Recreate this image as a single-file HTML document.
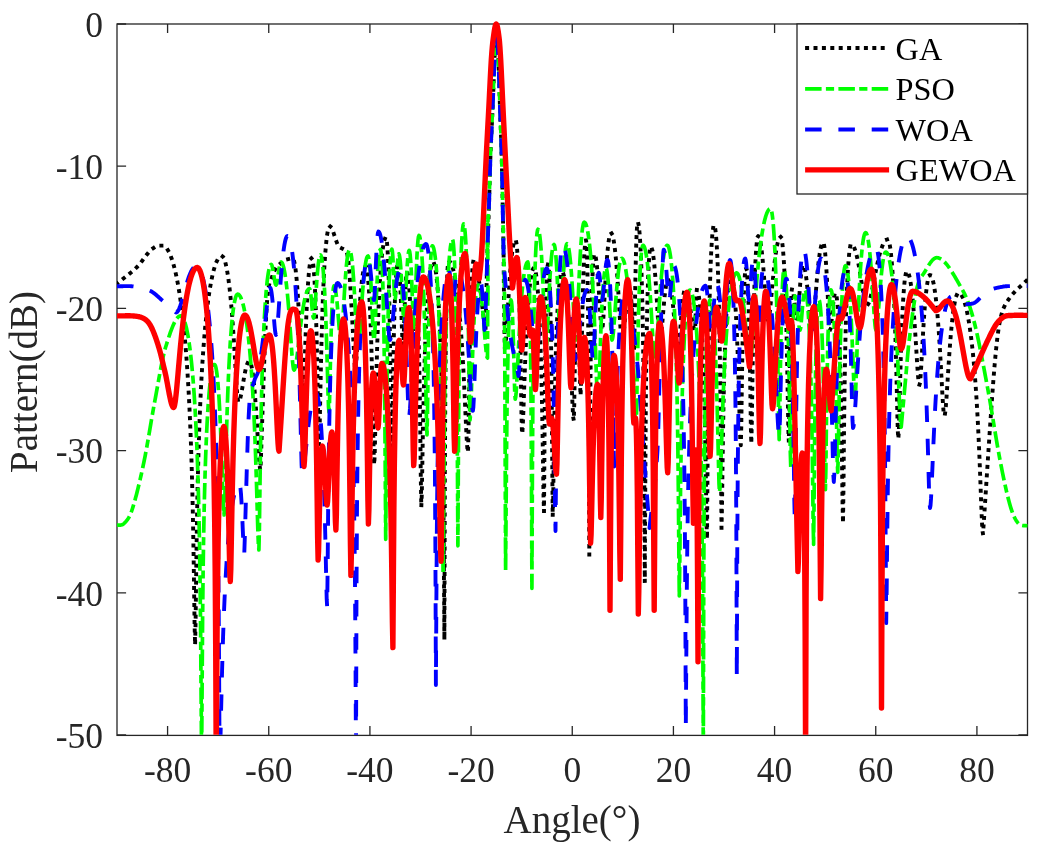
<!DOCTYPE html><html><head><meta charset="utf-8"><style>html,body{margin:0;padding:0;background:#fff;width:1040px;height:854px;overflow:hidden}svg{display:block;will-change:transform}text{font-family:"Liberation Serif",serif;fill:#262626}</style></head><body>
<svg width="1040" height="854" viewBox="0 0 1040 854">
<rect width="1040" height="854" fill="#fff"/>
<defs><clipPath id="c"><rect x="117.0" y="17" width="910.5" height="717.7"/></clipPath></defs>
<rect x="117.0" y="24.0" width="910.5" height="711.4" fill="none" stroke="#262626" stroke-width="1.3"/>
<path d="M167.58 735.0v-9.1M167.58 24.0v9.1M268.75 735.0v-9.1M268.75 24.0v9.1M369.92 735.0v-9.1M369.92 24.0v9.1M471.08 735.0v-9.1M471.08 24.0v9.1M572.25 735.0v-9.1M572.25 24.0v9.1M673.42 735.0v-9.1M673.42 24.0v9.1M774.58 735.0v-9.1M774.58 24.0v9.1M875.75 735.0v-9.1M875.75 24.0v9.1M976.92 735.0v-9.1M976.92 24.0v9.1M117.0 24.00h9.1M1027.5 24.00h-9.1M117.0 166.20h9.1M1027.5 166.20h-9.1M117.0 308.40h9.1M1027.5 308.40h-9.1M117.0 450.60h9.1M1027.5 450.60h-9.1M117.0 592.80h9.1M1027.5 592.80h-9.1M117.0 735.00h9.1M1027.5 735.00h-9.1" stroke="#262626" stroke-width="1.3" fill="none"/>
<g clip-path="url(#c)">
<path d="M117.00,283.50 L117.50,283.09 L118.00,282.68 L118.50,282.28 L119.00,281.88 L119.50,281.48 L120.00,281.09 L120.50,280.69 L121.00,280.30 L121.50,279.91 L122.00,279.53 L122.50,279.14 L123.00,278.75 L123.50,278.37 L124.00,277.98 L124.50,277.59 L125.00,277.21 L125.50,276.82 L126.00,276.43 L126.50,276.04 L127.00,275.65 L127.50,275.26 L128.00,274.86 L128.50,274.46 L129.00,274.06 L129.50,273.66 L130.00,273.25 L130.50,272.84 L131.00,272.42 L131.50,272.00 L132.00,271.58 L132.50,271.15 L133.00,270.71 L133.50,270.27 L134.00,269.82 L134.50,269.37 L135.00,268.91 L135.50,268.44 L136.00,267.97 L136.50,267.49 L137.00,267.00 L137.50,266.49 L138.00,265.96 L138.50,265.41 L139.00,264.83 L139.50,264.23 L140.00,263.62 L140.50,262.99 L141.00,262.35 L141.50,261.70 L142.00,261.04 L142.50,260.37 L143.00,259.69 L143.50,259.02 L144.00,258.34 L144.50,257.67 L145.00,256.99 L145.50,256.33 L146.00,255.67 L146.50,255.02 L147.00,254.38 L147.50,253.75 L148.00,253.15 L148.50,252.55 L149.00,251.98 L149.50,251.43 L150.00,250.91 L150.50,250.41 L151.00,249.94 L151.50,249.50 L151.99,249.10 L152.47,248.73 L152.96,248.38 L153.45,248.05 L153.93,247.75 L154.42,247.48 L154.90,247.22 L155.39,246.99 L155.88,246.78 L156.36,246.59 L156.85,246.41 L157.34,246.26 L157.82,246.13 L158.31,246.01 L158.80,245.91 L159.28,245.82 L159.77,245.75 L160.25,245.69 L160.74,245.65 L161.23,245.62 L161.71,245.61 L162.20,245.60 L162.70,245.63 L163.20,245.74 L163.70,245.91 L164.19,246.16 L164.69,246.48 L165.19,246.86 L165.69,247.32 L166.19,247.85 L166.69,248.45 L167.18,249.13 L167.68,249.88 L168.18,250.70 L168.68,251.60 L169.18,252.58 L169.68,253.63 L170.18,254.76 L170.67,255.98 L171.17,257.28 L171.67,258.66 L172.17,260.13 L172.67,261.69 L173.17,263.33 L173.67,265.07 L174.16,266.91 L174.66,268.85 L175.16,270.88 L175.66,273.02 L176.16,275.27 L176.66,277.64 L177.15,280.12 L177.65,282.72 L178.15,285.45 L178.65,288.31 L179.15,291.31 L179.65,294.46 L180.15,297.76 L180.64,301.22 L181.14,304.86 L181.64,308.67 L182.14,312.68 L182.64,316.89 L183.14,321.33 L183.63,326.00 L184.13,330.92 L184.63,336.13 L185.13,341.63 L185.63,347.46 L186.13,353.64 L186.63,360.23 L187.12,367.25 L187.62,374.77 L188.12,382.84 L188.62,391.54 L189.12,400.96 L189.62,411.22 L190.12,422.46 L190.61,434.86 L191.11,448.67 L191.61,464.21 L192.11,481.93 L192.61,502.42 L193.11,526.52 L193.60,555.29 L194.10,589.45 L194.60,625.68 L195.10,644.80 L195.59,621.52 L196.09,580.56 L196.58,544.05 L197.07,514.15 L197.56,489.47 L198.06,468.68 L198.55,450.81 L199.04,435.20 L199.53,421.38 L200.03,409.01 L200.52,397.83 L201.01,387.66 L201.50,378.35 L202.00,369.78 L202.49,361.86 L202.98,354.51 L203.47,347.66 L203.97,341.27 L204.46,335.29 L204.95,329.69 L205.44,324.42 L205.94,319.47 L206.43,314.81 L206.92,310.42 L207.41,306.28 L207.91,302.38 L208.40,298.69 L208.89,295.21 L209.39,291.93 L209.88,288.84 L210.37,285.92 L210.86,283.17 L211.36,280.58 L211.85,278.15 L212.34,275.87 L212.83,273.73 L213.33,271.73 L213.82,269.86 L214.31,268.13 L214.80,266.52 L215.30,265.03 L215.79,263.67 L216.28,262.42 L216.77,261.29 L217.27,260.27 L217.76,259.37 L218.25,258.57 L218.74,257.89 L219.24,257.31 L219.73,256.84 L220.22,256.47 L220.71,256.21 L221.21,256.05 L221.70,256.00 L222.19,256.12 L222.69,256.48 L223.18,257.08 L223.68,257.92 L224.17,259.00 L224.66,260.34 L225.16,261.93 L225.65,263.77 L226.15,265.88 L226.64,268.26 L227.14,270.91 L227.63,273.85 L228.12,277.09 L228.62,280.64 L229.11,284.51 L229.61,288.71 L230.10,293.26 L230.59,298.17 L231.09,303.45 L231.58,309.13 L232.08,315.21 L232.57,321.70 L233.06,328.62 L233.56,335.94 L234.05,343.66 L234.55,351.72 L235.04,360.03 L235.54,368.45 L236.03,376.75 L236.52,384.61 L237.02,391.57 L237.51,397.13 L238.01,400.74 L238.50,402.00 L238.99,401.71 L239.48,400.84 L239.97,399.45 L240.46,397.59 L240.95,395.34 L241.45,392.78 L241.94,390.01 L242.43,387.11 L242.92,384.15 L243.41,381.22 L243.90,378.36 L244.39,375.62 L244.88,373.06 L245.37,370.69 L245.86,368.56 L246.35,366.67 L246.85,365.05 L247.34,363.71 L247.83,362.66 L248.32,361.91 L248.81,361.45 L249.30,361.30 L249.79,361.54 L250.27,362.26 L250.76,363.45 L251.25,365.14 L251.73,367.32 L252.22,370.00 L252.71,373.20 L253.20,376.92 L253.68,381.19 L254.17,386.01 L254.66,391.40 L255.14,397.36 L255.63,403.89 L256.12,410.97 L256.60,418.58 L257.09,426.62 L257.58,434.95 L258.07,443.34 L258.55,451.45 L259.04,458.78 L259.53,464.72 L260.01,468.63 L260.50,470.00 L261.00,456.29 L261.50,441.96 L262.00,427.22 L262.50,412.27 L263.00,397.33 L263.50,382.59 L264.00,368.26 L264.50,354.55 L265.00,341.66 L265.50,329.80 L266.00,319.18 L266.50,310.00 L267.00,302.43 L267.50,296.37 L268.00,291.62 L268.50,287.99 L269.00,285.27 L269.50,283.26 L270.00,281.78 L270.50,280.60 L271.00,279.55 L271.50,278.41 L272.00,277.00 L272.50,275.45 L273.00,274.05 L273.50,272.77 L274.00,271.62 L274.50,270.58 L275.00,269.64 L275.50,268.80 L276.00,268.04 L276.50,267.35 L277.00,266.73 L277.50,266.17 L278.00,265.65 L278.50,265.17 L279.00,264.72 L279.50,264.29 L280.00,263.86 L280.50,263.44 L281.00,263.00 L281.49,262.58 L281.98,262.19 L282.46,261.82 L282.95,261.47 L283.44,261.15 L283.93,260.85 L284.41,260.57 L284.90,260.32 L285.39,260.08 L285.88,259.87 L286.36,259.68 L286.85,259.50 L287.34,259.34 L287.82,259.20 L288.31,259.08 L288.80,258.97 L289.29,258.88 L289.77,258.80 L290.26,258.74 L290.75,258.69 L291.24,258.65 L291.72,258.62 L292.21,258.60 L292.70,258.60 L293.19,258.91 L293.68,259.85 L294.17,261.41 L294.66,263.62 L295.15,266.49 L295.64,270.05 L296.13,274.32 L296.62,279.33 L297.11,285.14 L297.60,291.79 L298.10,299.33 L298.59,307.82 L299.08,317.31 L299.57,327.82 L300.06,339.35 L300.55,351.76 L301.04,364.71 L301.53,377.51 L302.02,388.89 L302.51,397.01 L303.00,400.00 L303.48,395.93 L303.97,385.22 L304.45,370.95 L304.93,355.70 L305.42,340.95 L305.90,327.36 L306.38,315.16 L306.87,304.36 L307.35,294.90 L307.83,286.70 L308.32,279.67 L308.80,273.73 L309.28,268.82 L309.77,264.87 L310.25,261.84 L310.73,259.70 L311.22,258.42 L311.70,258.00 L312.19,258.65 L312.67,260.59 L313.16,263.88 L313.65,268.58 L314.13,274.78 L314.62,282.62 L315.11,292.29 L315.59,304.04 L316.08,318.22 L316.57,335.24 L317.05,355.62 L317.54,379.74 L318.03,407.02 L318.51,432.99 L319.00,445.00 L319.49,435.27 L319.97,413.01 L320.46,388.06 L320.95,364.87 L321.43,344.47 L321.92,326.77 L322.40,311.42 L322.89,298.07 L323.38,286.43 L323.86,276.25 L324.35,267.34 L324.84,259.56 L325.32,252.78 L325.81,246.92 L326.30,241.88 L326.78,237.63 L327.27,234.10 L327.75,231.25 L328.24,229.07 L328.73,227.53 L329.21,226.61 L329.70,226.30 L330.20,226.44 L330.70,226.86 L331.20,227.51 L331.70,228.37 L332.20,229.42 L332.70,230.61 L333.20,231.93 L333.70,233.35 L334.20,234.82 L334.70,236.33 L335.20,237.85 L335.70,239.34 L336.20,240.77 L336.70,242.13 L337.20,243.37 L337.70,244.47 L338.20,245.40 L338.68,246.12 L339.17,246.69 L339.65,247.13 L340.14,247.47 L340.62,247.74 L341.11,247.98 L341.59,248.20 L342.08,248.45 L342.56,248.74 L343.05,249.12 L343.53,249.60 L344.02,250.22 L344.50,251.00 L344.97,251.60 L345.43,251.88 L345.90,252.07 L346.37,252.41 L346.83,253.12 L347.30,254.44 L347.77,256.60 L348.23,259.84 L348.70,264.40 L349.18,270.28 L349.67,276.88 L350.15,284.10 L350.64,291.85 L351.12,300.03 L351.61,308.56 L352.09,317.34 L352.58,326.27 L353.06,335.27 L353.55,344.23 L354.03,353.07 L354.52,361.69 L355.00,370.00 L355.50,368.51 L356.00,364.26 L356.50,357.86 L357.00,350.06 L357.50,341.53 L358.00,332.82 L358.50,324.27 L359.00,316.14 L359.50,308.53 L360.00,301.55 L360.50,295.20 L361.00,289.51 L361.50,284.46 L362.00,280.06 L362.50,276.28 L363.00,273.11 L363.50,270.53 L364.00,268.54 L364.50,267.13 L365.00,266.28 L365.50,266.00 L365.98,266.45 L366.47,267.81 L366.95,270.10 L367.43,273.36 L367.92,277.61 L368.40,282.95 L368.88,289.44 L369.37,297.20 L369.85,306.38 L370.33,317.16 L370.82,329.80 L371.30,344.59 L371.78,361.92 L372.27,382.18 L372.75,405.53 L373.23,431.06 L373.72,454.29 L374.20,464.60 L374.69,455.18 L375.18,433.43 L375.68,408.84 L376.17,385.81 L376.66,365.43 L377.15,347.65 L377.64,332.15 L378.13,318.60 L378.62,306.69 L379.12,296.21 L379.61,286.95 L380.10,278.76 L380.59,271.54 L381.08,265.18 L381.57,259.60 L382.07,254.75 L382.56,250.56 L383.05,247.01 L383.54,244.06 L384.03,241.67 L384.52,239.83 L385.02,238.53 L385.51,237.76 L386.00,237.50 L386.50,238.74 L387.00,242.51 L387.50,248.96 L388.00,258.39 L388.50,271.25 L389.00,288.31 L389.50,310.80 L390.00,340.84 L390.50,382.15 L391.00,439.36 L391.50,485.00 L392.00,459.37 L392.50,416.58 L393.00,380.26 L393.50,351.78 L394.00,329.39 L394.50,311.61 L395.00,297.46 L395.50,286.26 L396.00,277.56 L396.50,271.06 L397.00,266.54 L397.50,263.88 L398.00,263.00 L398.50,264.12 L399.00,267.49 L399.50,273.14 L400.00,281.09 L400.50,291.29 L401.00,303.51 L401.50,317.09 L402.00,330.49 L402.50,340.95 L403.00,345.00 L403.50,339.90 L404.00,327.34 L404.50,312.31 L405.00,298.29 L405.50,286.87 L406.00,278.61 L406.50,273.65 L407.00,272.00 L407.50,272.81 L408.00,275.22 L408.50,279.22 L409.00,284.78 L409.50,291.79 L410.00,300.07 L410.50,309.21 L411.00,318.51 L411.50,326.87 L412.00,332.82 L412.50,335.00 L413.00,332.71 L413.50,326.72 L414.00,318.97 L414.50,311.37 L415.00,305.25 L415.50,301.34 L416.00,300.00 L416.48,301.22 L416.96,304.92 L417.45,311.25 L417.93,320.46 L418.41,332.99 L418.89,349.47 L419.37,370.93 L419.85,398.92 L420.34,435.42 L420.82,479.61 L421.30,507.00 L421.79,494.63 L422.28,467.91 L422.76,439.71 L423.25,414.49 L423.74,392.79 L424.23,374.18 L424.71,358.13 L425.20,344.20 L425.69,332.03 L426.18,321.35 L426.66,311.94 L427.15,303.65 L427.64,296.34 L428.12,289.91 L428.61,284.28 L429.10,279.38 L429.59,275.16 L430.07,271.58 L430.56,268.60 L431.05,266.20 L431.54,264.35 L432.02,263.04 L432.51,262.26 L433.00,262.00 L433.50,262.29 L433.99,263.15 L434.49,264.60 L434.98,266.66 L435.48,269.33 L435.97,272.65 L436.47,276.65 L436.97,281.38 L437.46,286.90 L437.96,293.28 L438.45,300.61 L438.95,309.02 L439.44,318.65 L439.94,329.72 L440.43,342.50 L440.93,357.39 L441.43,374.95 L441.92,396.05 L442.42,422.10 L442.91,455.60 L443.41,501.46 L443.90,569.76 L444.40,639.80 L444.86,473.07 L445.31,392.51 L445.77,346.21 L446.22,315.40 L446.68,293.82 L447.13,278.72 L447.59,268.67 L448.04,262.89 L448.50,261.00 L449.00,261.10 L449.50,261.38 L450.00,261.86 L450.50,262.54 L451.00,263.41 L451.50,264.47 L452.00,265.74 L452.50,267.21 L453.00,268.90 L453.50,270.80 L454.00,272.91 L454.50,275.26 L455.00,277.84 L455.50,280.67 L456.00,283.74 L456.50,287.09 L457.00,290.71 L457.50,294.62 L458.00,298.84 L458.50,303.38 L459.00,308.27 L459.50,313.53 L460.00,319.18 L460.50,325.24 L461.00,331.75 L461.50,338.74 L462.00,346.25 L462.50,354.30 L463.00,362.92 L463.50,372.14 L464.00,381.96 L464.50,392.35 L465.00,403.21 L465.50,414.34 L466.00,425.34 L466.50,435.60 L467.00,444.20 L467.50,450.03 L468.00,452.10 L468.49,432.76 L468.98,396.87 L469.48,364.06 L469.97,337.51 L470.46,316.42 L470.95,299.73 L471.44,286.60 L471.93,276.46 L472.42,268.91 L472.92,263.69 L473.41,260.61 L473.90,259.60 L474.38,259.84 L474.87,260.54 L475.35,261.66 L475.83,263.19 L476.32,265.07 L476.80,267.30 L477.28,269.83 L477.77,272.64 L478.25,275.69 L478.73,278.95 L479.22,282.40 L479.70,286.00 L480.18,289.72 L480.67,293.54 L481.15,297.41 L481.63,301.32 L482.12,305.22 L482.60,309.10 L483.08,312.91 L483.57,316.64 L484.05,320.24 L484.53,323.69 L485.02,326.95 L485.50,330.00 L486.00,310.24 L486.50,290.00 L486.90,271.46 L487.30,254.50 L487.73,241.14 L488.15,229.21 L488.57,217.54 L489.00,205.00 L489.47,188.83 L489.93,171.77 L490.40,157.00 L490.84,145.98 L491.28,136.21 L491.72,127.05 L492.16,117.86 L492.60,108.00 L493.08,96.42 L493.55,84.36 L494.02,72.12 L494.50,60.00 L494.90,49.60 L495.30,40.00 L495.75,29.62 L496.20,24.00 L496.65,30.16 L497.10,40.00 L497.53,46.08 L497.97,51.87 L498.40,60.00 L498.80,70.57 L499.20,82.81 L499.60,95.64 L500.00,108.00 L500.43,119.82 L500.85,131.11 L501.27,143.10 L501.70,157.00 L502.20,179.08 L502.70,205.00 L503.15,227.30 L503.60,254.50 L503.80,277.01 L504.00,300.00 L504.40,325.79 L504.80,348.00 L505.29,346.53 L505.77,342.33 L506.26,336.00 L506.75,328.25 L507.23,319.76 L507.72,311.04 L508.20,302.46 L508.69,294.25 L509.18,286.54 L509.66,279.42 L510.15,272.90 L510.64,267.01 L511.12,261.73 L511.61,257.07 L512.10,252.99 L512.58,249.50 L513.07,246.57 L513.55,244.19 L514.04,242.35 L514.53,241.04 L515.01,240.26 L515.50,240.00 L516.00,240.86 L516.50,243.48 L517.00,247.92 L517.50,254.29 L518.00,262.80 L518.50,273.71 L519.00,287.42 L519.50,304.47 L520.00,325.62 L520.50,351.78 L521.00,383.35 L521.50,416.63 L522.00,433.80 L522.50,430.29 L523.00,420.88 L523.50,407.95 L524.00,393.69 L524.50,379.46 L525.00,365.96 L525.50,353.49 L526.00,342.11 L526.50,331.81 L527.00,322.53 L527.50,314.19 L528.00,306.73 L528.50,300.07 L529.00,294.16 L529.50,288.94 L530.00,284.38 L530.50,280.43 L531.00,277.06 L531.50,274.25 L532.00,271.98 L532.50,270.23 L533.00,268.99 L533.50,268.25 L534.00,268.00 L534.50,268.37 L535.00,269.50 L535.50,271.39 L536.00,274.07 L536.50,277.57 L537.00,281.94 L537.50,287.24 L538.00,293.55 L538.50,300.97 L539.00,309.62 L539.50,319.70 L540.00,331.41 L540.50,345.08 L541.00,361.10 L541.50,380.05 L542.00,402.67 L542.50,429.83 L543.00,461.85 L543.50,494.91 L544.00,511.70 L544.50,442.58 L545.00,376.44 L545.50,334.14 L546.00,305.70 L546.50,286.30 L547.00,273.59 L547.50,266.35 L548.00,264.00 L548.47,265.50 L548.94,270.09 L549.41,277.99 L549.88,289.63 L550.35,305.78 L550.82,327.70 L551.29,357.67 L551.76,399.95 L552.23,461.53 L552.70,516.50 L553.19,497.94 L553.68,462.62 L554.17,429.39 L554.66,401.67 L555.15,378.81 L555.64,359.80 L556.13,343.83 L556.62,330.29 L557.11,318.75 L557.59,308.92 L558.08,300.54 L558.57,293.45 L559.06,287.52 L559.55,282.64 L560.04,278.74 L560.53,275.76 L561.02,273.66 L561.51,272.41 L562.00,272.00 L562.49,272.24 L562.98,272.96 L563.48,274.18 L563.97,275.88 L564.46,278.09 L564.95,280.83 L565.44,284.10 L565.93,287.93 L566.42,292.35 L566.92,297.39 L567.41,303.08 L567.90,309.46 L568.39,316.58 L568.88,324.48 L569.38,333.20 L569.87,342.79 L570.36,353.23 L570.85,364.49 L571.34,376.40 L571.83,388.60 L572.32,400.39 L572.82,410.63 L573.31,417.80 L573.80,420.40 L574.26,404.27 L574.71,373.58 L575.17,345.88 L575.63,325.05 L576.09,310.87 L576.54,302.68 L577.00,300.00 L577.45,301.88 L577.90,307.56 L578.35,317.18 L578.80,330.86 L579.25,348.47 L579.70,368.74 L580.15,387.29 L580.60,395.40 L581.09,382.59 L581.58,355.65 L582.07,328.29 L582.56,304.93 L583.05,285.98 L583.55,270.95 L584.04,259.32 L584.53,250.67 L585.02,244.68 L585.51,241.16 L586.00,240.00 L586.47,243.12 L586.94,252.79 L587.41,270.16 L587.89,297.76 L588.36,341.52 L588.83,418.76 L589.30,554.80 L589.76,475.33 L590.23,405.20 L590.69,360.27 L591.15,328.82 L591.62,305.66 L592.08,288.23 L592.55,275.16 L593.01,265.60 L593.47,259.07 L593.94,255.25 L594.40,254.00 L594.88,254.42 L595.35,255.69 L595.82,257.80 L596.30,260.76 L596.77,264.57 L597.25,269.23 L597.73,274.71 L598.20,280.98 L598.67,287.96 L599.15,295.51 L599.62,303.39 L600.10,311.24 L600.58,318.52 L601.05,324.55 L601.52,328.58 L602.00,330.00 L602.50,328.24 L603.00,323.28 L603.50,315.96 L604.00,307.24 L604.50,297.94 L605.00,288.68 L605.50,279.83 L606.00,271.61 L606.50,264.14 L607.00,257.48 L607.50,251.64 L608.00,246.63 L608.50,242.42 L609.00,239.00 L609.50,236.37 L610.00,234.49 L610.50,233.37 L611.00,233.00 L611.50,233.26 L612.00,234.04 L612.50,235.34 L613.00,237.17 L613.50,239.54 L614.00,242.46 L614.50,245.94 L615.00,250.00 L615.50,254.64 L616.00,259.89 L616.50,265.75 L617.00,272.23 L617.50,279.31 L618.00,286.95 L618.50,295.09 L619.00,303.58 L619.50,312.20 L620.00,320.58 L620.50,328.21 L621.00,334.44 L621.50,338.55 L622.00,340.00 L622.50,339.26 L623.00,337.14 L623.50,333.83 L624.00,329.64 L624.50,324.89 L625.00,319.89 L625.50,314.88 L626.00,310.07 L626.50,305.61 L627.00,301.60 L627.50,298.13 L628.00,295.23 L628.50,292.96 L629.00,291.32 L629.50,290.33 L630.00,290.00 L630.50,291.48 L631.00,295.89 L631.50,303.15 L632.00,312.98 L632.50,324.68 L633.00,336.69 L633.50,346.26 L634.00,350.00 L634.46,335.56 L634.92,306.78 L635.39,279.42 L635.85,257.66 L636.31,241.61 L636.78,230.66 L637.24,224.29 L637.70,222.20 L638.17,222.88 L638.65,224.92 L639.12,228.38 L639.59,233.33 L640.07,239.91 L640.54,248.28 L641.01,258.72 L641.49,271.60 L641.96,287.49 L642.43,307.27 L642.91,332.40 L643.38,365.55 L643.85,412.29 L644.33,486.51 L644.80,582.00 L645.29,484.26 L645.78,409.98 L646.27,363.78 L646.77,331.51 L647.26,307.54 L647.75,289.24 L648.24,275.13 L648.73,264.38 L649.23,256.43 L649.72,250.96 L650.21,247.76 L650.70,246.70 L651.19,247.03 L651.68,248.02 L652.17,249.67 L652.66,251.99 L653.15,255.00 L653.64,258.69 L654.13,263.09 L654.62,268.20 L655.11,274.02 L655.59,280.53 L656.08,287.71 L656.57,295.49 L657.06,303.71 L657.55,312.16 L658.04,320.46 L658.53,328.09 L659.02,334.36 L659.51,338.53 L660.00,340.00 L660.50,339.03 L661.00,336.26 L661.50,332.00 L662.00,326.69 L662.50,320.79 L663.00,314.68 L663.50,308.67 L664.00,302.98 L664.50,297.78 L665.00,293.15 L665.50,289.18 L666.00,285.89 L666.50,283.32 L667.00,281.48 L667.50,280.37 L668.00,280.00 L668.50,280.26 L669.00,281.03 L669.50,282.33 L670.00,284.13 L670.50,286.46 L671.00,289.30 L671.50,292.64 L672.00,296.48 L672.50,300.80 L673.00,305.57 L673.50,310.74 L674.00,316.23 L674.50,321.94 L675.00,327.73 L675.50,333.40 L676.00,338.68 L676.50,343.29 L677.00,346.90 L677.50,349.20 L678.00,350.00 L678.50,348.74 L679.00,345.17 L679.50,339.82 L680.00,333.37 L680.50,326.43 L681.00,319.51 L681.50,312.98 L682.00,307.08 L682.50,301.95 L683.00,297.68 L683.50,294.34 L684.00,291.93 L684.50,290.48 L685.00,290.00 L685.50,290.18 L686.00,290.72 L686.50,291.63 L687.00,292.88 L687.50,294.47 L688.00,296.39 L688.50,298.61 L689.00,301.12 L689.50,303.86 L690.00,306.82 L690.50,309.92 L691.00,313.10 L691.50,316.28 L692.00,319.37 L692.50,322.26 L693.00,324.85 L693.50,327.01 L694.00,328.64 L694.50,329.65 L695.00,330.00 L695.45,322.26 L695.90,306.82 L696.35,294.47 L696.80,290.00 L697.29,290.34 L697.77,291.36 L698.26,293.08 L698.74,295.51 L699.23,298.68 L699.71,302.63 L700.20,307.40 L700.69,313.07 L701.17,319.71 L701.66,327.42 L702.14,336.34 L702.63,346.65 L703.11,358.57 L703.60,372.41 L704.09,388.58 L704.57,407.64 L705.06,430.33 L705.54,457.51 L706.03,489.47 L706.51,522.36 L707.00,539.00 L707.47,476.51 L707.95,411.15 L708.42,366.62 L708.89,334.31 L709.37,309.57 L709.84,290.01 L710.31,274.25 L710.79,261.46 L711.26,251.07 L711.73,242.74 L712.21,236.19 L712.68,231.26 L713.15,227.81 L713.63,225.77 L714.10,225.10 L714.59,225.77 L715.09,227.81 L715.58,231.25 L716.07,236.18 L716.57,242.71 L717.06,251.04 L717.55,261.40 L718.05,274.16 L718.54,289.87 L719.03,309.35 L719.53,333.94 L720.02,365.96 L720.51,409.71 L721.01,472.33 L721.50,528.00 L722.00,507.07 L722.50,468.94 L723.00,434.24 L723.50,405.78 L724.00,382.53 L724.50,363.29 L725.00,347.17 L725.50,333.53 L726.00,321.93 L726.50,312.04 L727.00,303.63 L727.50,296.52 L728.00,290.56 L728.50,285.67 L729.00,281.76 L729.50,278.77 L730.00,276.67 L730.50,275.42 L731.00,275.00 L731.49,275.36 L731.98,276.43 L732.47,278.24 L732.96,280.79 L733.45,284.11 L733.94,288.25 L734.43,293.24 L734.92,299.15 L735.41,306.04 L735.90,314.01 L736.39,323.17 L736.88,333.64 L737.37,345.55 L737.86,359.05 L738.35,374.24 L738.84,391.02 L739.33,408.90 L739.82,426.33 L740.31,440.02 L740.80,445.40 L741.27,427.42 L741.75,393.32 L742.22,361.69 L742.69,336.04 L743.16,315.80 L743.64,300.02 L744.11,287.92 L744.58,278.97 L745.05,272.81 L745.53,269.19 L746.00,268.00 L746.48,269.19 L746.96,272.80 L747.45,278.95 L747.93,287.88 L748.41,299.94 L748.89,315.67 L749.37,335.80 L749.85,361.28 L750.34,392.56 L750.82,426.03 L751.30,443.50 L751.79,425.07 L752.29,390.12 L752.78,357.48 L753.27,330.60 L753.76,308.83 L754.26,291.16 L754.75,276.79 L755.24,265.15 L755.74,255.81 L756.23,248.48 L756.72,242.97 L757.21,239.12 L757.71,236.85 L758.20,236.10 L758.69,236.38 L759.18,237.23 L759.67,238.65 L760.16,240.64 L760.65,243.21 L761.14,246.36 L761.63,250.10 L762.12,254.42 L762.61,259.32 L763.10,264.78 L763.59,270.77 L764.08,277.23 L764.57,284.07 L765.06,291.14 L765.55,298.20 L766.04,304.95 L766.53,310.97 L767.02,315.78 L767.51,318.91 L768.00,320.00 L768.48,319.36 L768.97,317.50 L769.45,314.54 L769.94,310.67 L770.42,306.12 L770.91,301.10 L771.39,295.81 L771.88,290.41 L772.36,285.02 L772.85,279.76 L773.33,274.69 L773.82,269.87 L774.30,265.34 L774.78,261.11 L775.27,257.21 L775.75,253.65 L776.24,250.43 L776.72,247.55 L777.21,245.02 L777.69,242.83 L778.18,240.98 L778.66,239.47 L779.15,238.30 L779.63,237.47 L780.12,236.97 L780.60,236.80 L781.08,237.31 L781.56,238.84 L782.05,241.43 L782.53,245.10 L783.01,249.92 L783.49,255.99 L783.98,263.40 L784.46,272.32 L784.94,282.94 L785.42,295.54 L785.91,310.46 L786.39,328.15 L786.87,349.17 L787.35,373.95 L787.84,402.02 L788.32,428.93 L788.80,441.50 L789.26,414.94 L789.71,372.77 L790.17,339.46 L790.63,315.97 L791.09,300.48 L791.54,291.67 L792.00,288.80 L792.50,289.40 L793.00,291.18 L793.50,294.07 L794.00,297.90 L794.50,302.45 L795.00,307.36 L795.50,312.15 L796.00,316.24 L796.50,319.01 L797.00,320.00 L797.50,318.51 L798.00,314.33 L798.50,308.21 L799.00,301.05 L799.50,293.64 L800.00,286.57 L800.50,280.23 L801.00,274.85 L801.50,270.58 L802.00,267.49 L802.50,265.62 L803.00,265.00 L803.50,265.31 L804.00,266.22 L804.50,267.75 L805.00,269.89 L805.50,272.63 L806.00,275.97 L806.50,279.88 L807.00,284.35 L807.50,289.32 L808.00,294.72 L808.50,300.45 L809.00,306.37 L809.50,312.25 L810.00,317.81 L810.50,322.73 L811.00,326.62 L811.50,329.13 L812.00,330.00 L812.48,329.11 L812.97,326.53 L813.45,322.50 L813.93,317.37 L814.41,311.48 L814.90,305.17 L815.38,298.71 L815.86,292.29 L816.34,286.07 L816.83,280.15 L817.31,274.60 L817.79,269.46 L818.27,264.76 L818.76,260.51 L819.24,256.72 L819.72,253.39 L820.20,250.51 L820.69,248.08 L821.17,246.10 L821.65,244.57 L822.13,243.47 L822.62,242.82 L823.10,242.60 L823.59,243.19 L824.09,244.96 L824.58,247.92 L825.07,252.10 L825.56,257.50 L826.06,264.13 L826.55,271.98 L827.04,280.98 L827.54,290.94 L828.03,301.48 L828.52,311.92 L829.01,321.13 L829.51,327.63 L830.00,330.00 L830.49,328.98 L830.98,326.10 L831.47,321.82 L831.96,316.72 L832.45,311.38 L832.95,306.26 L833.44,301.72 L833.93,298.00 L834.42,295.25 L834.91,293.57 L835.40,293.00 L835.88,293.58 L836.35,295.34 L836.82,298.30 L837.30,302.52 L837.77,308.10 L838.25,315.13 L838.73,323.80 L839.20,334.33 L839.67,347.04 L840.15,362.35 L840.62,380.88 L841.10,403.51 L841.58,431.39 L842.05,465.45 L842.52,502.73 L843.00,523.00 L843.48,487.77 L843.96,436.62 L844.45,396.42 L844.93,365.61 L845.41,341.33 L845.89,321.71 L846.38,305.58 L846.86,292.18 L847.34,281.00 L847.82,271.68 L848.31,263.98 L848.79,257.71 L849.27,252.73 L849.75,248.95 L850.24,246.30 L850.72,244.72 L851.20,244.20 L851.69,244.29 L852.19,244.57 L852.68,245.04 L853.18,245.69 L853.67,246.53 L854.16,247.55 L854.66,248.75 L855.15,250.14 L855.64,251.71 L856.14,253.46 L856.63,255.38 L857.12,257.47 L857.62,259.72 L858.11,262.14 L858.61,264.70 L859.10,267.40 L859.59,270.23 L860.09,273.16 L860.58,276.17 L861.08,279.24 L861.57,282.35 L862.06,285.44 L862.56,288.49 L863.05,291.44 L863.54,294.24 L864.04,296.84 L864.53,299.17 L865.02,301.18 L865.52,302.81 L866.01,304.01 L866.51,304.75 L867.00,305.00 L867.49,304.84 L867.99,304.35 L868.48,303.55 L868.97,302.46 L869.46,301.09 L869.96,299.47 L870.45,297.63 L870.94,295.60 L871.44,293.41 L871.93,291.09 L872.42,288.67 L872.91,286.18 L873.41,283.64 L873.90,281.07 L874.39,278.50 L874.89,275.95 L875.38,273.42 L875.87,270.94 L876.36,268.52 L876.86,266.16 L877.35,263.87 L877.84,261.67 L878.34,259.55 L878.83,257.53 L879.32,255.60 L879.81,253.77 L880.31,252.05 L880.80,250.43 L881.29,248.92 L881.79,247.52 L882.28,246.23 L882.77,245.04 L883.26,243.97 L883.76,243.01 L884.25,242.17 L884.74,241.43 L885.24,240.81 L885.73,240.30 L886.22,239.91 L886.71,239.63 L887.21,239.46 L887.70,239.40 L888.18,239.70 L888.66,240.61 L889.15,242.14 L889.63,244.30 L890.11,247.10 L890.59,250.59 L891.07,254.79 L891.55,259.75 L892.04,265.52 L892.52,272.18 L893.00,279.80 L893.48,288.51 L893.96,298.42 L894.45,309.70 L894.93,322.53 L895.41,337.15 L895.89,353.76 L896.37,372.49 L896.85,393.06 L897.34,414.06 L897.82,431.52 L898.30,438.70 L898.78,432.43 L899.26,416.87 L899.73,397.71 L900.21,378.63 L900.69,361.13 L901.17,345.60 L901.64,332.01 L902.12,320.22 L902.60,310.04 L903.08,301.30 L903.56,293.86 L904.03,287.61 L904.51,282.47 L904.99,278.34 L905.47,275.19 L905.94,272.96 L906.42,271.64 L906.90,271.20 L907.40,271.41 L907.90,272.02 L908.40,273.05 L908.90,274.50 L909.40,276.37 L909.90,278.68 L910.40,281.42 L910.90,284.62 L911.40,288.28 L911.90,292.42 L912.40,297.04 L912.90,302.17 L913.40,307.81 L913.90,313.96 L914.40,320.63 L914.90,327.78 L915.40,335.38 L915.90,343.34 L916.40,351.50 L916.90,359.66 L917.40,367.45 L917.90,374.44 L918.40,380.05 L918.90,383.72 L919.40,385.00 L919.88,383.47 L920.36,379.11 L920.85,372.56 L921.33,364.58 L921.81,355.86 L922.29,346.94 L922.77,338.19 L923.25,329.84 L923.74,322.01 L924.22,314.79 L924.70,308.19 L925.18,302.23 L925.66,296.91 L926.15,292.20 L926.63,288.09 L927.11,284.57 L927.59,281.61 L928.07,279.22 L928.55,277.37 L929.04,276.05 L929.52,275.26 L930.00,275.00 L930.50,275.16 L930.99,275.65 L931.49,276.47 L931.99,277.62 L932.48,279.10 L932.98,280.93 L933.48,283.10 L933.97,285.64 L934.47,288.54 L934.97,291.83 L935.46,295.51 L935.96,299.61 L936.46,304.13 L936.95,309.11 L937.45,314.56 L937.94,320.49 L938.44,326.94 L938.94,333.91 L939.43,341.42 L939.93,349.45 L940.43,357.99 L940.92,366.96 L941.42,376.24 L941.92,385.58 L942.41,394.64 L942.91,402.87 L943.41,409.59 L943.90,414.04 L944.40,415.60 L944.89,414.47 L945.37,411.22 L945.86,406.20 L946.34,399.86 L946.83,392.67 L947.32,385.04 L947.80,377.26 L948.29,369.57 L948.78,362.10 L949.26,354.97 L949.75,348.21 L950.23,341.86 L950.72,335.94 L951.21,330.45 L951.69,325.37 L952.18,320.71 L952.67,316.45 L953.15,312.58 L953.64,309.08 L954.12,305.96 L954.61,303.19 L955.10,300.77 L955.58,298.69 L956.07,296.94 L956.56,295.51 L957.04,294.41 L957.53,293.63 L958.01,293.16 L958.50,293.00 L959.00,293.06 L959.50,293.25 L960.00,293.56 L960.50,294.00 L961.00,294.56 L961.50,295.25 L962.00,296.07 L962.50,297.02 L963.00,298.10 L963.50,299.32 L964.00,300.68 L964.50,302.17 L965.00,303.81 L965.50,305.59 L966.00,307.53 L966.50,309.62 L967.00,311.87 L967.50,314.29 L968.00,316.88 L968.50,319.65 L969.00,322.61 L969.50,325.76 L970.00,329.12 L970.50,332.70 L971.00,336.50 L971.50,340.55 L972.00,344.85 L972.50,349.42 L973.00,354.28 L973.50,359.46 L974.00,364.97 L974.50,370.85 L975.00,377.12 L975.50,383.81 L976.00,390.98 L976.50,398.65 L977.00,406.88 L977.50,415.73 L978.00,425.25 L978.50,435.50 L979.00,446.53 L979.50,458.38 L980.00,471.01 L980.50,484.31 L981.00,497.93 L981.50,511.16 L982.00,522.78 L982.50,531.00 L983.00,534.00 L983.50,526.57 L984.00,519.06 L984.50,511.48 L985.00,503.86 L985.50,496.20 L986.00,488.51 L986.50,480.80 L987.00,473.10 L987.50,465.41 L988.00,457.75 L988.50,450.13 L989.00,442.55 L989.50,435.04 L990.00,427.61 L990.50,420.27 L991.00,413.02 L991.50,405.90 L992.00,398.90 L992.50,392.04 L993.00,385.34 L993.50,378.80 L993.98,372.80 L994.45,367.06 L994.92,361.58 L995.40,356.38 L995.88,351.44 L996.35,346.79 L996.83,342.42 L997.30,338.34 L997.78,334.55 L998.25,331.06 L998.73,327.88 L999.20,325.00 L999.68,322.36 L1000.16,319.96 L1000.64,317.77 L1001.12,315.78 L1001.61,313.97 L1002.09,312.34 L1002.57,310.86 L1003.05,309.52 L1003.53,308.31 L1004.01,307.20 L1004.49,306.19 L1004.98,305.25 L1005.46,304.38 L1005.94,303.56 L1006.42,302.77 L1006.90,302.00 L1007.39,301.23 L1007.88,300.48 L1008.37,299.75 L1008.86,299.04 L1009.35,298.35 L1009.84,297.69 L1010.33,297.03 L1010.83,296.40 L1011.32,295.79 L1011.81,295.19 L1012.30,294.60 L1012.79,294.03 L1013.28,293.47 L1013.77,292.93 L1014.26,292.39 L1014.75,291.87 L1015.24,291.36 L1015.73,290.86 L1016.22,290.36 L1016.71,289.88 L1017.20,289.40 L1017.70,288.93 L1018.19,288.46 L1018.68,288.00 L1019.17,287.54 L1019.66,287.08 L1020.15,286.63 L1020.64,286.18 L1021.13,285.72 L1021.62,285.27 L1022.11,284.82 L1022.60,284.36 L1023.09,283.90 L1023.58,283.44 L1024.07,282.98 L1024.57,282.51 L1025.06,282.03 L1025.55,281.55 L1026.04,281.06 L1026.53,280.56 L1027.02,280.05 L1027.51,279.53 L1028.00,279.00" fill="none" stroke="#000" stroke-width="3.9" stroke-linejoin="round" stroke-linecap="square" stroke-dasharray="0.1 8.4"/>
<path d="M117.00,525.30 L117.50,525.20 L118.00,525.14 L118.50,525.11 L119.00,525.10 L119.50,525.10 L120.00,525.09 L120.50,525.07 L121.00,525.02 L121.50,524.93 L122.00,524.79 L122.50,524.59 L123.00,524.32 L123.50,523.96 L124.00,523.50 L124.50,522.99 L125.00,522.48 L125.50,521.95 L126.00,521.40 L126.50,520.82 L127.00,520.20 L127.50,519.53 L128.00,518.81 L128.50,518.02 L129.00,517.16 L129.50,516.22 L130.00,515.19 L130.50,514.06 L131.00,512.82 L131.50,511.47 L132.00,510.00 L132.49,508.47 L132.98,506.89 L133.47,505.26 L133.97,503.59 L134.46,501.89 L134.95,500.14 L135.44,498.34 L135.93,496.51 L136.43,494.65 L136.92,492.74 L137.41,490.80 L137.90,488.82 L138.39,486.80 L138.88,484.76 L139.38,482.67 L139.87,480.56 L140.36,478.42 L140.85,476.24 L141.34,474.04 L141.83,471.80 L142.33,469.54 L142.82,467.25 L143.31,464.94 L143.80,462.60 L144.29,460.23 L144.77,457.79 L145.26,455.28 L145.75,452.70 L146.23,450.07 L146.72,447.39 L147.21,444.67 L147.70,441.91 L148.18,439.11 L148.67,436.29 L149.16,433.45 L149.64,430.59 L150.13,427.73 L150.62,424.87 L151.10,422.01 L151.59,419.16 L152.08,416.32 L152.57,413.51 L153.05,410.73 L153.54,407.98 L154.03,405.27 L154.51,402.61 L155.00,400.00 L155.50,397.33 L156.00,394.61 L156.50,391.86 L157.00,389.09 L157.50,386.30 L158.00,383.51 L158.50,380.73 L159.00,377.96 L159.50,375.21 L160.00,372.50 L160.50,369.83 L161.00,367.21 L161.50,364.66 L162.00,362.17 L162.50,359.77 L163.00,357.46 L163.50,355.25 L164.00,353.15 L164.50,351.17 L165.00,349.31 L165.50,347.60 L165.99,346.00 L166.47,344.42 L166.96,342.85 L167.45,341.30 L167.94,339.76 L168.42,338.25 L168.91,336.77 L169.40,335.31 L169.88,333.88 L170.37,332.49 L170.86,331.13 L171.35,329.81 L171.83,328.54 L172.32,327.31 L172.81,326.12 L173.29,324.99 L173.78,323.91 L174.27,322.88 L174.75,321.92 L175.24,321.01 L175.73,320.17 L176.22,319.40 L176.70,318.69 L177.19,318.06 L177.68,317.50 L178.16,317.03 L178.65,316.63 L179.14,316.31 L179.63,316.09 L180.11,315.95 L180.60,315.90 L181.10,315.99 L181.60,316.25 L182.10,316.68 L182.60,317.29 L183.10,318.07 L183.60,319.03 L184.10,320.18 L184.60,321.51 L185.10,323.03 L185.60,324.74 L186.10,326.65 L186.60,328.77 L187.10,331.10 L187.60,333.65 L188.10,336.43 L188.60,339.45 L189.10,342.73 L189.60,346.27 L190.10,350.09 L190.60,354.22 L191.10,358.66 L191.60,363.45 L192.10,368.61 L192.60,374.18 L193.10,380.19 L193.60,386.69 L194.10,393.73 L194.60,401.37 L195.10,409.71 L195.60,418.83 L196.10,428.86 L196.60,439.97 L197.10,452.35 L197.60,466.30 L198.10,482.20 L198.60,500.62 L199.10,522.42 L199.60,549.00 L200.10,582.78 L200.60,628.51 L201.10,695.22 L201.60,760.00 L202.10,688.18 L202.59,619.26 L203.09,573.16 L203.58,539.46 L204.08,513.20 L204.58,491.85 L205.07,474.00 L205.57,458.78 L206.07,445.62 L206.56,434.14 L207.06,424.03 L207.55,415.11 L208.05,407.20 L208.55,400.20 L209.04,393.99 L209.54,388.51 L210.03,383.70 L210.53,379.50 L211.03,375.87 L211.52,372.78 L212.02,370.21 L212.52,368.14 L213.01,366.54 L213.51,365.40 L214.00,364.73 L214.50,364.50 L215.00,364.89 L215.50,366.05 L216.00,367.99 L216.50,370.75 L217.00,374.34 L217.50,378.80 L218.00,384.19 L218.50,390.56 L219.00,397.99 L219.50,406.57 L220.00,416.38 L220.50,427.52 L221.00,440.07 L221.50,454.02 L222.00,469.16 L222.50,484.86 L223.00,499.62 L223.50,510.75 L224.00,515.00 L224.49,508.60 L224.97,492.69 L225.46,473.01 L225.94,453.24 L226.43,434.88 L226.91,418.31 L227.40,403.50 L227.89,390.29 L228.37,378.48 L228.86,367.91 L229.34,358.42 L229.83,349.89 L230.31,342.21 L230.80,335.30 L231.29,329.09 L231.77,323.51 L232.26,318.52 L232.74,314.07 L233.23,310.14 L233.71,306.68 L234.20,303.68 L234.69,301.12 L235.17,298.98 L235.66,297.25 L236.14,295.91 L236.63,294.96 L237.11,294.39 L237.60,294.20 L238.10,294.28 L238.59,294.52 L239.09,294.93 L239.58,295.50 L240.08,296.24 L240.57,297.14 L241.07,298.22 L241.56,299.46 L242.06,300.89 L242.55,302.49 L243.05,304.28 L243.54,306.25 L244.04,308.43 L244.53,310.80 L245.03,313.39 L245.53,316.19 L246.02,319.23 L246.52,322.50 L247.01,326.02 L247.51,329.81 L248.00,333.89 L248.50,338.26 L248.99,342.95 L249.49,347.98 L249.98,353.39 L250.48,359.20 L250.97,365.44 L251.47,372.17 L251.97,379.42 L252.46,387.25 L252.96,395.73 L253.45,404.94 L253.95,414.97 L254.44,425.92 L254.94,437.92 L255.43,451.08 L255.93,465.51 L256.42,481.27 L256.92,498.22 L257.41,515.76 L257.91,532.39 L258.40,545.10 L258.90,550.00 L259.39,529.31 L259.88,491.33 L260.38,456.50 L260.87,427.71 L261.36,403.96 L261.85,384.08 L262.34,367.18 L262.84,352.63 L263.33,339.98 L263.82,328.90 L264.31,319.14 L264.80,310.53 L265.30,302.91 L265.79,296.19 L266.28,290.26 L266.77,285.06 L267.26,280.53 L267.76,276.62 L268.25,273.30 L268.74,270.53 L269.23,268.30 L269.72,266.59 L270.22,265.37 L270.71,264.64 L271.20,264.40 L271.68,264.83 L272.16,266.10 L272.64,268.12 L273.12,270.77 L273.60,273.85 L274.08,277.08 L274.56,280.16 L275.04,282.71 L275.52,284.40 L276.00,285.00 L276.50,284.32 L277.00,282.39 L277.50,279.51 L278.00,276.05 L278.50,272.44 L279.00,269.02 L279.50,266.09 L280.00,263.86 L280.50,262.47 L281.00,262.00 L281.50,262.19 L282.00,262.75 L282.50,263.68 L283.00,264.99 L283.50,266.69 L284.00,268.77 L284.50,271.25 L285.00,274.13 L285.50,277.43 L286.00,281.14 L286.50,285.29 L287.00,289.87 L287.50,294.90 L288.00,300.37 L288.50,306.29 L289.00,312.63 L289.50,319.36 L290.00,326.42 L290.50,333.71 L291.00,341.09 L291.50,348.34 L292.00,355.15 L292.50,361.14 L293.00,365.88 L293.50,368.94 L294.00,370.00 L294.50,369.57 L295.00,368.29 L295.50,366.24 L296.00,363.51 L296.50,360.20 L297.00,356.46 L297.50,352.39 L298.00,348.10 L298.50,343.71 L299.00,339.28 L299.50,334.89 L300.00,330.59 L300.50,326.42 L301.00,322.41 L301.50,318.59 L302.00,314.98 L302.50,311.58 L303.00,308.41 L303.50,305.47 L304.00,302.76 L304.50,300.29 L305.00,298.06 L305.50,296.07 L306.00,294.31 L306.50,292.79 L307.00,291.51 L307.50,290.46 L308.00,289.65 L308.50,289.06 L309.00,288.72 L309.50,288.60 L310.00,289.50 L310.50,292.12 L311.00,296.28 L311.50,301.57 L312.00,307.35 L312.50,312.72 L313.00,316.58 L313.50,318.00 L313.99,316.64 L314.49,312.80 L314.98,307.08 L315.47,300.21 L315.96,292.88 L316.46,285.61 L316.95,278.79 L317.44,272.65 L317.94,267.33 L318.43,262.92 L318.92,259.47 L319.41,256.99 L319.91,255.50 L320.40,255.00 L320.88,255.43 L321.36,256.74 L321.83,258.93 L322.31,262.04 L322.79,266.10 L323.27,271.17 L323.74,277.30 L324.22,284.59 L324.70,293.13 L325.18,303.04 L325.66,314.46 L326.13,327.52 L326.61,342.31 L327.09,358.72 L327.57,376.24 L328.04,393.33 L328.52,406.74 L329.00,412.00 L329.50,402.63 L330.00,381.48 L330.50,358.47 L331.00,338.04 L331.50,321.26 L332.00,308.08 L332.50,298.20 L333.00,291.36 L333.50,287.33 L334.00,286.00 L334.50,286.45 L335.00,287.81 L335.50,290.06 L336.00,293.18 L336.50,297.14 L337.00,301.87 L337.50,307.28 L338.00,313.20 L338.50,319.42 L339.00,325.58 L339.50,331.24 L340.00,335.87 L340.50,338.93 L341.00,340.00 L341.50,338.29 L342.00,333.49 L342.50,326.38 L343.00,317.91 L343.50,308.90 L344.00,299.94 L344.50,291.41 L345.00,283.53 L345.50,276.43 L346.00,270.17 L346.50,264.76 L347.00,260.21 L347.50,256.51 L348.00,253.65 L348.50,251.62 L349.00,250.40 L349.50,250.00 L350.00,250.42 L350.50,251.70 L351.00,253.83 L351.50,256.83 L352.00,260.72 L352.50,265.52 L353.00,271.26 L353.50,277.95 L354.00,285.58 L354.50,294.14 L355.00,303.53 L355.50,313.54 L356.00,323.80 L356.50,333.64 L357.00,342.09 L357.50,347.91 L358.00,350.00 L358.50,348.65 L359.00,344.81 L359.50,338.99 L360.00,331.83 L360.50,323.96 L361.00,315.86 L361.50,307.88 L362.00,300.26 L362.50,293.15 L363.00,286.61 L363.50,280.71 L364.00,275.44 L364.50,270.83 L365.00,266.85 L365.50,263.51 L366.00,260.79 L366.50,258.69 L367.00,257.19 L367.50,256.30 L368.00,256.00 L368.50,256.79 L369.00,259.15 L369.50,263.12 L370.00,268.70 L370.50,275.90 L371.00,284.70 L371.50,294.96 L372.00,306.36 L372.50,318.16 L373.00,329.05 L373.50,337.02 L374.00,340.00 L374.49,337.08 L374.98,329.22 L375.48,318.40 L375.97,306.54 L376.46,294.94 L376.95,284.31 L377.45,274.99 L377.94,267.12 L378.43,260.72 L378.92,255.78 L379.42,252.28 L379.91,250.19 L380.40,249.50 L380.88,250.75 L381.36,254.56 L381.85,261.08 L382.33,270.62 L382.81,283.67 L383.29,301.04 L383.77,324.11 L384.25,355.35 L384.74,399.73 L385.22,467.66 L385.70,539.30 L386.18,480.79 L386.65,417.18 L387.13,373.46 L387.61,341.84 L388.08,317.88 L388.56,299.23 L389.04,284.54 L389.52,272.99 L389.99,264.07 L390.47,257.42 L390.95,252.81 L391.42,250.10 L391.90,249.20 L392.34,250.94 L392.79,256.09 L393.23,264.38 L393.67,275.12 L394.11,286.70 L394.56,296.22 L395.00,300.00 L395.48,297.44 L395.95,290.68 L396.43,281.76 L396.90,272.68 L397.38,264.76 L397.85,258.76 L398.32,255.05 L398.80,253.80 L399.27,254.63 L399.75,257.11 L400.22,261.24 L400.69,266.98 L401.16,274.26 L401.64,282.89 L402.11,292.48 L402.58,302.32 L403.05,311.24 L403.53,317.64 L404.00,320.00 L404.47,317.44 L404.95,310.54 L405.42,301.01 L405.89,290.60 L406.36,280.53 L406.84,271.54 L407.31,263.99 L407.78,258.06 L408.25,253.81 L408.73,251.25 L409.20,250.40 L409.68,251.50 L410.16,254.83 L410.64,260.39 L411.12,268.19 L411.60,278.18 L412.08,290.09 L412.56,303.26 L413.04,316.17 L413.52,326.15 L414.00,330.00 L414.50,324.75 L415.00,311.64 L415.50,295.53 L416.00,279.84 L416.50,266.12 L417.00,254.90 L417.50,246.28 L418.00,240.20 L418.50,236.60 L419.00,235.40 L419.50,235.97 L420.00,237.70 L420.50,240.61 L421.00,244.76 L421.50,250.23 L422.00,257.12 L422.50,265.58 L423.00,275.82 L423.50,288.09 L424.00,302.76 L424.50,320.30 L425.00,341.25 L425.50,366.13 L426.00,394.52 L426.50,422.03 L427.00,435.00 L427.48,413.64 L427.96,375.53 L428.45,341.82 L428.93,315.14 L429.41,294.36 L429.89,278.26 L430.37,265.97 L430.85,256.90 L431.34,250.66 L431.82,247.00 L432.30,245.80 L432.79,246.11 L433.28,247.06 L433.77,248.64 L434.26,250.88 L434.75,253.80 L435.25,257.44 L435.74,261.82 L436.23,267.03 L436.72,273.11 L437.21,280.16 L437.70,288.30 L438.19,297.68 L438.68,308.50 L439.17,321.03 L439.66,335.64 L440.15,352.86 L440.65,373.51 L441.14,398.84 L441.63,430.95 L442.12,473.43 L442.61,530.30 L443.10,574.00 L443.59,516.72 L444.09,453.21 L444.58,408.84 L445.08,376.15 L445.57,350.74 L446.07,330.27 L446.56,313.39 L447.06,299.25 L447.55,287.31 L448.05,277.17 L448.54,268.58 L449.04,261.34 L449.53,255.28 L450.03,250.31 L450.52,246.35 L451.02,243.32 L451.51,241.19 L452.01,239.92 L452.50,239.50 L452.99,240.75 L453.48,244.57 L453.97,251.11 L454.46,260.67 L454.95,273.76 L455.45,291.21 L455.94,314.42 L456.43,345.96 L456.92,391.14 L457.41,462.27 L457.90,545.80 L458.38,458.59 L458.85,386.42 L459.32,340.71 L459.80,308.61 L460.27,284.73 L460.75,266.47 L461.23,252.39 L461.70,241.65 L462.18,233.72 L462.65,228.26 L463.12,225.06 L463.60,224.00 L464.09,224.87 L464.58,227.49 L465.08,231.93 L465.57,238.32 L466.06,246.84 L466.55,257.78 L467.05,271.53 L467.54,288.65 L468.03,309.92 L468.52,336.28 L469.02,368.26 L469.51,402.26 L470.00,420.00 L470.50,415.48 L471.00,403.77 L471.50,388.49 L472.00,372.53 L472.50,357.41 L473.00,343.73 L473.50,331.68 L474.00,321.23 L474.50,312.29 L475.00,304.77 L475.50,298.57 L476.00,293.60 L476.50,289.80 L477.00,287.12 L477.50,285.53 L478.00,285.00 L478.50,285.29 L479.00,286.17 L479.50,287.64 L480.00,289.69 L480.50,292.33 L481.00,295.55 L481.50,299.36 L482.00,303.73 L482.50,308.64 L483.00,314.06 L483.50,319.91 L484.00,326.09 L484.50,332.46 L485.00,338.79 L485.50,344.80 L486.00,350.11 L486.50,354.33 L487.00,357.06 L487.50,358.00 L487.75,289.41 L488.00,300.00 L487.65,223.66 L487.30,254.50 L487.73,226.56 L488.15,216.25 L488.57,212.68 L489.00,205.00 L489.47,188.83 L489.93,171.77 L490.40,157.00 L490.84,145.98 L491.28,136.21 L491.72,127.05 L492.16,117.86 L492.60,108.00 L493.08,96.42 L493.55,84.36 L494.02,72.12 L494.50,60.00 L494.90,49.60 L495.30,40.00 L495.75,29.62 L496.20,24.00 L496.65,30.16 L497.10,40.00 L497.53,46.08 L497.97,51.87 L498.40,60.00 L498.80,70.57 L499.20,82.81 L499.60,95.64 L500.00,108.00 L500.43,119.82 L500.85,131.11 L501.27,143.10 L501.70,157.00 L502.20,179.08 L502.70,205.00 L503.15,229.59 L503.60,254.50 L504.05,265.42 L504.50,300.00 L504.87,375.79 L505.23,473.04 L505.60,570.30 L506.09,511.49 L506.58,448.06 L507.07,404.89 L507.56,374.11 L508.05,351.26 L508.55,334.01 L509.04,321.03 L509.53,311.54 L510.02,305.04 L510.51,301.25 L511.00,300.00 L511.47,301.51 L511.93,306.06 L512.40,313.77 L512.87,324.76 L513.33,339.10 L513.80,356.51 L514.27,375.57 L514.73,392.19 L515.20,399.20 L515.68,397.38 L516.17,392.23 L516.65,384.58 L517.14,375.37 L517.62,365.43 L518.11,355.36 L518.59,345.52 L519.08,336.15 L519.56,327.36 L520.05,319.19 L520.53,311.65 L521.02,304.75 L521.50,298.45 L521.98,292.73 L522.47,287.58 L522.95,282.95 L523.44,278.84 L523.92,275.21 L524.41,272.05 L524.89,269.34 L525.38,267.08 L525.86,265.24 L526.35,263.82 L526.83,262.81 L527.32,262.20 L527.80,262.00 L528.26,263.88 L528.71,269.64 L529.17,279.66 L529.62,294.70 L530.08,316.14 L530.53,346.68 L530.99,392.19 L531.44,468.90 L531.90,588.30 L532.37,479.23 L532.84,402.96 L533.31,356.08 L533.78,323.28 L534.25,298.76 L534.72,279.80 L535.18,264.93 L535.65,253.27 L536.12,244.27 L536.59,237.57 L537.06,232.93 L537.53,230.20 L538.00,229.30 L538.50,229.81 L539.00,231.35 L539.50,233.94 L540.00,237.60 L540.50,242.37 L541.00,248.31 L541.50,255.47 L542.00,263.93 L542.50,273.72 L543.00,284.88 L543.50,297.32 L544.00,310.77 L544.50,324.52 L545.00,337.18 L545.50,346.51 L546.00,350.00 L546.50,347.37 L547.00,340.20 L547.50,330.07 L548.00,318.63 L548.50,307.06 L549.00,296.06 L549.50,286.00 L550.00,277.02 L550.50,269.19 L551.00,262.49 L551.50,256.90 L552.00,252.39 L552.50,248.92 L553.00,246.46 L553.50,244.99 L554.00,244.50 L554.50,245.29 L555.00,247.68 L555.50,251.68 L556.00,257.31 L556.50,264.60 L557.00,273.50 L557.50,283.91 L558.00,295.50 L558.50,307.56 L559.00,318.72 L559.50,326.93 L560.00,330.00 L560.50,327.69 L561.00,321.35 L561.50,312.32 L562.00,302.07 L562.50,291.68 L563.00,281.84 L563.50,272.94 L564.00,265.17 L564.50,258.59 L565.00,253.23 L565.50,249.09 L566.00,246.14 L566.50,244.39 L567.00,243.80 L567.50,244.17 L568.00,245.29 L568.50,247.16 L569.00,249.78 L569.50,253.19 L570.00,257.38 L570.50,262.37 L571.00,268.18 L571.50,274.80 L572.00,282.22 L572.50,290.39 L573.00,299.17 L573.50,308.35 L574.00,317.55 L574.50,326.17 L575.00,333.39 L575.50,338.27 L576.00,340.00 L576.49,337.06 L576.98,329.07 L577.46,317.93 L577.95,305.49 L578.44,293.02 L578.93,281.24 L579.42,270.46 L579.91,260.83 L580.39,252.37 L580.88,245.05 L581.37,238.82 L581.86,233.65 L582.35,229.47 L582.84,226.27 L583.32,224.00 L583.81,222.65 L584.30,222.20 L584.79,222.38 L585.28,222.94 L585.77,223.87 L586.26,225.17 L586.75,226.86 L587.24,228.94 L587.72,231.43 L588.21,234.34 L588.70,237.69 L589.19,241.50 L589.68,245.79 L590.17,250.60 L590.66,255.95 L591.15,261.89 L591.64,268.46 L592.13,275.71 L592.62,283.71 L593.11,292.53 L593.60,302.22 L594.09,312.88 L594.58,324.54 L595.06,337.24 L595.55,350.87 L596.04,365.17 L596.53,379.41 L597.02,392.25 L597.51,401.55 L598.00,405.00 L598.50,400.32 L599.00,388.24 L599.50,372.58 L600.00,356.31 L600.50,340.96 L601.00,327.13 L601.50,314.96 L602.00,304.43 L602.50,295.43 L603.00,287.87 L603.50,281.63 L604.00,276.64 L604.50,272.82 L605.00,270.13 L605.50,268.53 L606.00,268.00 L606.50,268.73 L607.00,270.92 L607.50,274.56 L608.00,279.66 L608.50,286.19 L609.00,294.05 L609.50,303.07 L610.00,312.85 L610.50,322.69 L611.00,331.48 L611.50,337.72 L612.00,340.00 L612.49,338.96 L612.98,335.97 L613.47,331.36 L613.96,325.58 L614.45,319.07 L614.94,312.23 L615.43,305.37 L615.92,298.71 L616.41,292.39 L616.90,286.52 L617.39,281.17 L617.88,276.35 L618.37,272.10 L618.86,268.42 L619.35,265.32 L619.84,262.79 L620.33,260.82 L620.82,259.42 L621.31,258.58 L621.80,258.30 L622.29,258.47 L622.78,258.98 L623.27,259.83 L623.76,261.02 L624.25,262.57 L624.74,264.47 L625.23,266.74 L625.72,269.40 L626.21,272.44 L626.70,275.90 L627.19,279.78 L627.68,284.11 L628.17,288.92 L628.66,294.23 L629.14,300.08 L629.63,306.50 L630.12,313.53 L630.61,321.22 L631.10,329.61 L631.59,338.73 L632.08,348.61 L632.57,359.24 L633.06,370.57 L633.55,382.42 L634.04,394.41 L634.53,405.87 L635.02,415.72 L635.51,422.54 L636.00,425.00 L636.50,412.84 L637.00,386.70 L637.50,359.40 L638.00,335.40 L638.50,315.26 L639.00,298.57 L639.50,284.83 L640.00,273.59 L640.50,264.54 L641.00,257.41 L641.50,252.02 L642.00,248.26 L642.50,246.04 L643.00,245.30 L643.50,245.52 L644.00,246.19 L644.50,247.32 L645.00,248.89 L645.50,250.93 L646.00,253.45 L646.50,256.44 L647.00,259.93 L647.50,263.94 L648.00,268.46 L648.50,273.53 L649.00,279.15 L649.50,285.33 L650.00,292.08 L650.50,299.38 L651.00,307.19 L651.50,315.44 L652.00,323.98 L652.50,332.59 L653.00,340.91 L653.50,348.44 L654.00,354.56 L654.50,358.59 L655.00,360.00 L655.49,358.70 L655.98,354.97 L656.48,349.27 L656.97,342.19 L657.46,334.29 L657.95,326.06 L658.44,317.81 L658.94,309.79 L659.43,302.14 L659.92,294.94 L660.41,288.23 L660.90,282.05 L661.40,276.38 L661.89,271.23 L662.38,266.59 L662.87,262.43 L663.36,258.76 L663.86,255.55 L664.35,252.80 L664.84,250.49 L665.33,248.61 L665.82,247.16 L666.32,246.12 L666.81,245.51 L667.30,245.30 L667.80,245.56 L668.30,246.36 L668.80,247.69 L669.30,249.57 L669.80,252.01 L670.30,255.04 L670.80,258.69 L671.30,263.00 L671.80,268.00 L672.30,273.77 L672.80,280.37 L673.30,287.90 L673.80,296.47 L674.30,306.25 L674.80,317.43 L675.30,330.28 L675.80,345.20 L676.30,362.72 L676.80,383.68 L677.30,409.37 L677.80,442.04 L678.30,485.68 L678.80,546.00 L679.30,596.00 L679.79,562.62 L680.27,512.70 L680.76,472.69 L681.25,441.61 L681.73,416.80 L682.22,396.45 L682.70,379.41 L683.19,364.92 L683.68,352.47 L684.16,341.71 L684.65,332.37 L685.14,324.26 L685.62,317.23 L686.11,311.17 L686.60,305.99 L687.08,301.61 L687.57,297.98 L688.05,295.07 L688.54,292.83 L689.03,291.25 L689.51,290.31 L690.00,290.00 L690.49,290.21 L690.99,290.84 L691.48,291.89 L691.97,293.37 L692.46,295.30 L692.96,297.68 L693.45,300.53 L693.94,303.88 L694.43,307.76 L694.93,312.19 L695.42,317.22 L695.91,322.90 L696.40,329.29 L696.90,336.47 L697.39,344.54 L697.88,353.62 L698.37,363.88 L698.87,375.52 L699.36,388.84 L699.85,404.23 L700.34,422.29 L700.84,443.92 L701.33,470.65 L701.82,505.26 L702.31,553.77 L702.81,632.96 L703.30,760.00 L703.78,567.67 L704.26,484.92 L704.74,436.54 L705.21,402.98 L705.69,377.85 L706.17,358.29 L706.65,342.77 L707.13,330.38 L707.61,320.54 L708.09,312.87 L708.56,307.13 L709.04,303.13 L709.52,300.78 L710.00,300.00 L710.50,300.40 L711.00,301.62 L711.50,303.66 L712.00,306.56 L712.50,310.34 L713.00,315.06 L713.50,320.79 L714.00,327.60 L714.50,335.61 L715.00,344.96 L715.50,355.81 L716.00,368.38 L716.50,382.94 L717.00,399.76 L717.50,419.10 L718.00,440.84 L718.50,463.76 L719.00,483.59 L719.50,492.00 L719.99,487.94 L720.48,477.19 L720.97,462.67 L721.45,446.90 L721.94,431.34 L722.43,416.65 L722.92,403.06 L723.41,390.60 L723.90,379.21 L724.39,368.80 L724.87,359.29 L725.36,350.58 L725.85,342.59 L726.34,335.25 L726.83,328.52 L727.32,322.32 L727.81,316.63 L728.29,311.39 L728.78,306.59 L729.27,302.18 L729.76,298.15 L730.25,294.47 L730.74,291.12 L731.23,288.09 L731.71,285.37 L732.20,282.94 L732.69,280.79 L733.18,278.91 L733.67,277.30 L734.16,275.94 L734.65,274.84 L735.13,273.99 L735.62,273.38 L736.11,273.02 L736.60,272.90 L737.10,273.06 L737.59,273.53 L738.09,274.32 L738.59,275.43 L739.08,276.86 L739.58,278.62 L740.07,280.70 L740.57,283.10 L741.07,285.84 L741.56,288.90 L742.06,292.30 L742.56,296.03 L743.05,300.08 L743.55,304.44 L744.04,309.11 L744.54,314.05 L745.04,319.22 L745.53,324.59 L746.03,330.06 L746.53,335.54 L747.02,340.90 L747.52,345.98 L748.01,350.58 L748.51,354.49 L749.01,357.47 L749.50,359.36 L750.00,360.00 L750.50,359.05 L751.00,356.28 L751.50,351.95 L752.00,346.38 L752.50,339.94 L753.00,332.95 L753.50,325.67 L754.00,318.32 L754.50,311.04 L755.00,303.92 L755.50,297.04 L756.00,290.44 L756.50,284.13 L757.00,278.13 L757.50,272.44 L758.00,267.05 L758.50,261.97 L759.00,257.17 L759.50,252.66 L760.00,248.42 L760.50,244.44 L761.00,240.71 L761.50,237.22 L762.00,233.97 L762.50,230.94 L763.00,228.13 L763.50,225.53 L764.00,223.14 L764.50,220.95 L765.00,218.95 L765.50,217.14 L766.00,215.51 L766.50,214.06 L767.00,212.79 L767.50,211.70 L768.00,210.78 L768.50,210.03 L769.00,209.45 L769.50,209.03 L770.00,208.78 L770.50,208.70 L770.98,209.16 L771.47,210.55 L771.95,212.88 L772.43,216.19 L772.92,220.53 L773.40,225.98 L773.88,232.62 L774.37,240.59 L774.85,250.06 L775.33,261.23 L775.82,274.43 L776.30,290.06 L776.78,308.67 L777.27,331.02 L777.75,357.98 L778.23,389.85 L778.72,422.84 L779.20,439.60 L779.68,420.75 L780.16,385.72 L780.64,353.90 L781.12,328.55 L781.60,308.97 L782.08,294.12 L782.56,283.23 L783.04,275.78 L783.52,271.43 L784.00,270.00 L784.49,270.75 L784.97,273.01 L785.46,276.83 L785.94,282.31 L786.43,289.58 L786.91,298.84 L787.40,310.37 L787.89,324.57 L788.37,341.96 L788.86,363.26 L789.34,389.30 L789.83,420.30 L790.31,452.33 L790.80,468.50 L791.27,445.03 L791.73,405.05 L792.20,371.20 L792.67,345.44 L793.13,326.31 L793.60,312.52 L794.07,303.18 L794.53,297.77 L795.00,296.00 L795.50,296.64 L796.00,298.55 L796.50,301.64 L797.00,305.77 L797.50,310.69 L798.00,316.04 L798.50,321.30 L799.00,325.82 L799.50,328.90 L800.00,330.00 L800.50,328.64 L801.00,324.85 L801.50,319.37 L802.00,313.10 L802.50,306.82 L803.00,301.12 L803.50,296.39 L804.00,292.88 L804.50,290.72 L805.00,290.00 L805.48,290.46 L805.96,291.86 L806.43,294.21 L806.91,297.55 L807.39,301.93 L807.87,307.43 L808.34,314.15 L808.82,322.22 L809.30,331.81 L809.78,343.18 L810.26,356.65 L810.73,372.68 L811.21,391.94 L811.69,415.38 L812.17,444.36 L812.64,480.30 L813.12,521.11 L813.60,544.50 L814.09,500.43 L814.58,444.12 L815.07,403.10 L815.56,373.17 L816.05,350.74 L816.55,333.71 L817.04,320.87 L817.53,311.45 L818.02,305.01 L818.51,301.24 L819.00,300.00 L819.49,300.86 L819.98,303.47 L820.48,307.89 L820.97,314.24 L821.46,322.71 L821.95,333.57 L822.45,347.19 L822.94,364.11 L823.43,385.03 L823.92,410.78 L824.42,441.57 L824.91,473.47 L825.40,489.60 L825.87,468.18 L826.33,429.88 L826.80,395.85 L827.27,368.70 L827.73,347.30 L828.20,330.42 L828.67,317.17 L829.13,306.96 L829.60,299.36 L830.07,294.11 L830.53,291.02 L831.00,290.00 L831.48,290.74 L831.96,292.97 L832.44,296.74 L832.91,302.14 L833.39,309.29 L833.87,318.38 L834.35,329.66 L834.83,343.48 L835.31,360.27 L835.79,380.59 L836.26,404.89 L836.74,432.72 L837.22,459.64 L837.70,472.30 L838.19,457.88 L838.68,428.22 L839.16,398.45 L839.65,372.80 L840.14,351.40 L840.62,333.60 L841.11,318.76 L841.60,306.37 L842.09,296.05 L842.58,287.53 L843.06,280.60 L843.55,275.11 L844.04,270.94 L844.52,268.01 L845.01,266.28 L845.50,265.70 L846.00,266.07 L846.50,267.20 L847.00,269.08 L847.50,271.74 L848.00,275.19 L848.50,279.49 L849.00,284.65 L849.50,290.73 L850.00,297.78 L850.50,305.85 L851.00,315.01 L851.50,325.29 L852.00,336.67 L852.50,349.05 L853.00,362.10 L853.50,375.12 L854.00,386.79 L854.50,395.20 L855.00,398.30 L855.48,394.16 L855.96,383.27 L856.45,368.71 L856.93,353.07 L857.41,337.84 L857.89,323.67 L858.37,310.78 L858.85,299.19 L859.34,288.82 L859.82,279.60 L860.30,271.42 L860.78,264.19 L861.26,257.85 L861.75,252.33 L862.23,247.57 L862.71,243.52 L863.19,240.16 L863.67,237.44 L864.15,235.36 L864.64,233.88 L865.12,232.99 L865.60,232.70 L866.10,232.97 L866.59,233.80 L867.09,235.17 L867.58,237.11 L868.08,239.61 L868.57,242.69 L869.07,246.35 L869.56,250.60 L870.06,255.46 L870.55,260.93 L871.05,267.00 L871.54,273.66 L872.04,280.85 L872.53,288.49 L873.03,296.45 L873.52,304.48 L874.02,312.25 L874.51,319.27 L875.01,324.95 L875.50,328.69 L876.00,330.00 L876.49,329.04 L876.98,326.28 L877.47,322.01 L877.96,316.61 L878.45,310.50 L878.94,304.03 L879.43,297.51 L879.92,291.14 L880.41,285.08 L880.90,279.43 L881.39,274.25 L881.88,269.58 L882.37,265.46 L882.86,261.88 L883.35,258.85 L883.84,256.38 L884.33,254.46 L884.82,253.09 L885.31,252.27 L885.80,252.00 L886.30,252.15 L886.79,252.60 L887.29,253.35 L887.79,254.40 L888.28,255.76 L888.78,257.44 L889.28,259.44 L889.77,261.77 L890.27,264.45 L890.77,267.48 L891.26,270.88 L891.76,274.66 L892.26,278.86 L892.75,283.48 L893.25,288.56 L893.75,294.13 L894.25,300.21 L894.74,306.85 L895.24,314.09 L895.74,321.97 L896.23,330.53 L896.73,339.81 L897.23,349.84 L897.72,360.62 L898.22,372.09 L898.72,384.06 L899.21,396.18 L899.71,407.76 L900.21,417.71 L900.70,424.61 L901.20,427.10 L901.68,421.86 L902.16,416.63 L902.63,411.39 L903.11,406.15 L903.59,400.91 L904.07,395.67 L904.54,390.44 L905.02,385.22 L905.50,380.00 L906.00,374.39 L906.50,368.57 L907.00,362.71 L907.50,356.96 L908.00,351.48 L908.50,346.44 L909.00,342.00 L909.50,337.92 L910.00,333.86 L910.50,329.84 L911.00,325.88 L911.50,321.98 L912.00,318.17 L912.50,314.46 L913.00,310.86 L913.50,307.38 L914.00,304.05 L914.50,300.87 L915.00,297.86 L915.50,295.04 L916.00,292.41 L916.50,290.00 L917.00,287.83 L917.50,285.90 L918.00,284.20 L918.50,282.70 L919.00,281.37 L919.50,280.20 L920.00,279.16 L920.50,278.24 L921.00,277.40 L921.50,276.63 L922.00,275.90 L922.50,275.20 L923.00,274.50 L923.50,273.77 L924.00,273.00 L924.49,272.21 L924.98,271.41 L925.47,270.60 L925.95,269.79 L926.44,268.97 L926.93,268.16 L927.42,267.35 L927.91,266.55 L928.40,265.76 L928.88,264.99 L929.37,264.24 L929.86,263.51 L930.35,262.81 L930.84,262.14 L931.33,261.50 L931.82,260.90 L932.30,260.34 L932.79,259.82 L933.28,259.35 L933.77,258.94 L934.26,258.57 L934.75,258.27 L935.23,258.02 L935.72,257.85 L936.21,257.74 L936.70,257.70 L937.20,257.72 L937.69,257.78 L938.19,257.87 L938.68,258.00 L939.18,258.17 L939.68,258.37 L940.17,258.60 L940.67,258.87 L941.17,259.17 L941.66,259.50 L942.16,259.86 L942.65,260.25 L943.15,260.67 L943.65,261.12 L944.14,261.59 L944.64,262.09 L945.13,262.62 L945.63,263.17 L946.13,263.74 L946.62,264.33 L947.12,264.95 L947.62,265.58 L948.11,266.24 L948.61,266.92 L949.10,267.61 L949.60,268.32 L950.10,269.05 L950.59,269.79 L951.09,270.55 L951.58,271.32 L952.08,272.10 L952.58,272.90 L953.07,273.70 L953.57,274.52 L954.07,275.35 L954.56,276.18 L955.06,277.03 L955.55,277.88 L956.05,278.73 L956.55,279.59 L957.04,280.46 L957.54,281.33 L958.03,282.20 L958.53,283.07 L959.03,283.94 L959.52,284.81 L960.02,285.69 L960.52,286.56 L961.01,287.42 L961.51,288.29 L962.00,289.15 L962.50,290.00 L962.99,290.85 L963.48,291.74 L963.96,292.67 L964.45,293.63 L964.94,294.64 L965.42,295.68 L965.91,296.76 L966.40,297.88 L966.89,299.04 L967.38,300.25 L967.86,301.50 L968.35,302.79 L968.84,304.13 L969.33,305.51 L969.81,306.94 L970.30,308.41 L970.79,309.94 L971.28,311.51 L971.76,313.13 L972.25,314.80 L972.74,316.52 L973.23,318.30 L973.71,320.12 L974.20,322.00 L974.70,323.98 L975.20,326.02 L975.70,328.12 L976.20,330.27 L976.70,332.47 L977.20,334.71 L977.70,337.00 L978.20,339.34 L978.70,341.71 L979.20,344.12 L979.70,346.57 L980.20,349.05 L980.70,351.55 L981.20,354.09 L981.70,356.65 L982.20,359.24 L982.70,361.85 L983.20,364.47 L983.70,367.11 L984.20,369.76 L984.70,372.43 L985.20,375.10 L985.70,377.78 L986.20,380.46 L986.70,383.14 L987.20,385.82 L987.70,388.50 L988.19,391.16 L988.68,393.88 L989.18,396.64 L989.67,399.45 L990.16,402.30 L990.65,405.19 L991.14,408.10 L991.64,411.04 L992.13,414.00 L992.62,416.97 L993.11,419.96 L993.60,422.95 L994.10,425.94 L994.59,428.92 L995.08,431.89 L995.57,434.85 L996.06,437.79 L996.56,440.71 L997.05,443.59 L997.54,446.44 L998.03,449.25 L998.52,452.02 L999.02,454.74 L999.51,457.40 L1000.00,460.00 L1000.50,462.60 L1001.00,465.18 L1001.50,467.73 L1002.00,470.25 L1002.50,472.74 L1003.00,475.19 L1003.50,477.62 L1004.00,480.00 L1004.50,482.35 L1005.00,484.66 L1005.50,486.92 L1006.00,489.14 L1006.50,491.31 L1007.00,493.43 L1007.50,495.50 L1008.00,497.51 L1008.50,499.47 L1009.00,501.38 L1009.50,503.22 L1010.00,505.00 L1010.50,506.71 L1011.00,508.33 L1011.50,509.86 L1012.00,511.31 L1012.50,512.68 L1013.00,513.98 L1013.50,515.19 L1014.00,516.33 L1014.50,517.40 L1015.00,518.40 L1015.50,519.33 L1016.00,520.19 L1016.50,520.98 L1017.00,521.72 L1017.50,522.39 L1018.00,523.00 L1018.50,523.54 L1019.00,524.00 L1019.50,524.39 L1020.00,524.71 L1020.50,524.97 L1021.00,525.17 L1021.50,525.33 L1022.00,525.45 L1022.50,525.53 L1023.00,525.58 L1023.50,525.62 L1024.00,525.63 L1024.50,525.64 L1025.00,525.65 L1025.50,525.66 L1026.00,525.68 L1026.50,525.72 L1027.00,525.78 L1027.50,525.87 L1028.00,526.00" fill="none" stroke="#0f0" stroke-width="3.7" stroke-linejoin="round" stroke-linecap="butt" stroke-dasharray="16.5 4.3 8.2 4.3"/>
<path d="M117.00,286.30 L117.49,286.30 L117.99,286.30 L118.48,286.30 L118.98,286.30 L119.47,286.29 L119.96,286.28 L120.46,286.26 L120.95,286.25 L121.45,286.24 L121.94,286.22 L122.44,286.20 L122.93,286.19 L123.42,286.17 L123.92,286.16 L124.41,286.14 L124.91,286.13 L125.40,286.12 L125.89,286.11 L126.39,286.10 L126.88,286.09 L127.38,286.09 L127.87,286.09 L128.36,286.10 L128.86,286.11 L129.35,286.12 L129.85,286.14 L130.34,286.16 L130.84,286.19 L131.33,286.23 L131.82,286.27 L132.32,286.32 L132.81,286.37 L133.31,286.43 L133.80,286.50 L134.29,286.57 L134.78,286.65 L135.27,286.72 L135.77,286.80 L136.26,286.88 L136.75,286.97 L137.24,287.05 L137.73,287.14 L138.22,287.23 L138.71,287.33 L139.21,287.42 L139.70,287.53 L140.19,287.63 L140.68,287.74 L141.17,287.85 L141.66,287.97 L142.15,288.09 L142.65,288.22 L143.14,288.35 L143.63,288.49 L144.12,288.63 L144.61,288.78 L145.10,288.93 L145.59,289.09 L146.09,289.26 L146.58,289.43 L147.07,289.61 L147.56,289.80 L148.05,289.99 L148.54,290.19 L149.03,290.40 L149.53,290.61 L150.02,290.83 L150.51,291.06 L151.00,291.30 L151.48,291.55 L151.97,291.82 L152.45,292.12 L152.93,292.43 L153.42,292.76 L153.90,293.11 L154.38,293.48 L154.87,293.86 L155.35,294.25 L155.83,294.65 L156.32,295.06 L156.80,295.49 L157.28,295.91 L157.77,296.35 L158.25,296.79 L158.73,297.23 L159.22,297.67 L159.70,298.12 L160.18,298.56 L160.67,299.00 L161.15,299.43 L161.63,299.86 L162.12,300.29 L162.60,300.70 L163.10,301.12 L163.59,301.55 L164.09,301.97 L164.59,302.40 L165.08,302.83 L165.58,303.26 L166.07,303.70 L166.57,304.13 L167.07,304.57 L167.56,305.01 L168.06,305.44 L168.56,305.88 L169.05,306.32 L169.55,306.77 L170.04,307.21 L170.54,307.65 L171.04,308.09 L171.53,308.53 L172.03,308.98 L172.53,309.42 L173.02,309.86 L173.52,310.30 L174.01,310.74 L174.51,311.18 L175.01,311.62 L175.50,312.06 L176.00,312.50 L176.50,312.40 L177.00,312.09 L177.50,311.59 L178.00,310.90 L178.50,310.04 L179.00,309.00 L179.50,307.81 L180.00,306.49 L180.50,305.04 L181.00,303.50 L181.50,301.86 L182.00,300.16 L182.50,298.41 L183.00,296.61 L183.50,294.80 L184.00,292.98 L184.50,291.16 L185.00,289.35 L185.50,287.57 L186.00,285.83 L186.50,284.13 L187.00,282.48 L187.50,280.88 L188.00,279.35 L188.50,277.89 L189.00,276.50 L189.50,275.18 L190.00,273.95 L190.50,272.79 L191.00,271.72 L191.50,270.74 L192.00,269.85 L192.50,269.05 L193.00,268.34 L193.50,267.72 L194.00,267.20 L194.50,266.77 L195.00,266.43 L195.50,266.19 L196.00,266.05 L196.50,266.00 L196.99,266.07 L197.48,266.28 L197.97,266.62 L198.47,267.11 L198.96,267.73 L199.45,268.50 L199.94,269.41 L200.43,270.47 L200.92,271.67 L201.41,273.03 L201.91,274.54 L202.40,276.21 L202.89,278.04 L203.38,280.04 L203.87,282.21 L204.36,284.56 L204.86,287.10 L205.35,289.83 L205.84,292.77 L206.33,295.92 L206.82,299.29 L207.31,302.90 L207.80,306.76 L208.30,310.88 L208.79,315.29 L209.28,320.01 L209.77,325.06 L210.26,330.47 L210.75,336.27 L211.24,342.50 L211.74,349.20 L212.23,356.44 L212.72,364.27 L213.21,372.78 L213.70,382.06 L214.19,392.25 L214.69,403.50 L215.18,416.03 L215.67,430.13 L216.16,446.19 L216.65,464.79 L217.14,486.83 L217.63,513.77 L218.13,548.27 L218.62,595.79 L219.11,669.57 L219.60,760.00 L220.10,752.29 L220.59,733.69 L221.09,711.53 L221.59,689.90 L222.09,670.15 L222.59,652.49 L223.08,636.75 L223.58,622.69 L224.08,610.05 L224.57,598.65 L225.07,588.30 L225.57,578.87 L226.07,570.24 L226.56,562.32 L227.06,555.03 L227.56,548.31 L228.06,542.10 L228.56,536.35 L229.05,531.03 L229.55,526.10 L230.05,521.54 L230.54,517.32 L231.04,513.41 L231.54,509.80 L232.04,506.48 L232.53,503.43 L233.03,500.63 L233.53,498.07 L234.03,495.75 L234.53,493.66 L235.02,491.78 L235.52,490.12 L236.02,488.67 L236.51,487.42 L237.01,486.37 L237.51,485.51 L238.01,484.85 L238.50,484.38 L239.00,484.09 L239.50,484.00 L239.98,485.03 L240.46,488.11 L240.94,493.25 L241.42,500.40 L241.90,509.42 L242.38,520.00 L242.86,531.40 L243.34,542.23 L243.82,550.34 L244.30,553.40 L244.77,538.52 L245.24,522.79 L245.71,506.58 L246.18,490.25 L246.65,474.16 L247.12,458.67 L247.59,444.15 L248.06,430.96 L248.53,419.45 L249.00,410.00 L249.50,402.25 L250.00,396.45 L250.50,392.29 L251.00,389.44 L251.50,387.58 L252.00,386.40 L252.50,385.57 L253.00,384.77 L253.50,383.69 L254.00,382.00 L254.50,380.14 L255.00,378.68 L255.50,377.51 L256.00,376.52 L256.50,375.59 L257.00,374.61 L257.50,373.48 L258.00,372.08 L258.50,370.29 L259.00,368.00 L259.50,365.24 L260.00,362.15 L260.50,358.77 L261.00,355.17 L261.50,351.38 L262.00,347.48 L262.50,343.51 L263.00,339.52 L263.50,335.57 L264.00,331.71 L264.50,328.00 L264.97,324.36 L265.43,320.31 L265.90,315.98 L266.37,311.52 L266.83,307.05 L267.30,302.73 L267.77,298.69 L268.23,295.07 L268.70,292.01 L269.17,289.65 L269.63,288.14 L270.10,287.60 L270.59,288.17 L271.08,289.86 L271.58,292.65 L272.07,296.48 L272.56,301.27 L273.05,306.86 L273.54,313.01 L274.03,319.34 L274.52,325.35 L275.02,330.40 L275.51,333.80 L276.00,335.00 L276.50,333.87 L277.00,330.62 L277.50,325.61 L278.00,319.33 L278.50,312.27 L279.00,304.83 L279.50,297.35 L280.00,290.03 L280.50,283.04 L281.00,276.46 L281.50,270.35 L282.00,264.74 L282.50,259.65 L283.00,255.07 L283.50,251.00 L284.00,247.44 L284.50,244.37 L285.00,241.80 L285.50,239.70 L286.00,238.08 L286.50,236.92 L287.00,236.23 L287.50,236.00 L287.99,236.17 L288.47,236.66 L288.96,237.50 L289.45,238.67 L289.93,240.19 L290.42,242.06 L290.91,244.29 L291.39,246.90 L291.88,249.91 L292.37,253.32 L292.85,257.17 L293.34,261.47 L293.83,266.26 L294.31,271.59 L294.80,277.48 L295.29,283.99 L295.77,291.18 L296.26,299.14 L296.75,307.94 L297.23,317.70 L297.72,328.56 L298.21,340.67 L298.69,354.23 L299.18,369.46 L299.67,386.58 L300.15,405.69 L300.64,426.52 L301.13,447.65 L301.61,465.14 L302.10,472.30 L302.60,471.80 L303.09,470.31 L303.59,467.93 L304.09,464.79 L304.58,461.03 L305.08,456.82 L305.58,452.30 L306.07,447.61 L306.57,442.85 L307.06,438.12 L307.56,433.50 L308.06,429.03 L308.55,424.76 L309.05,420.71 L309.55,416.91 L310.04,413.38 L310.54,410.12 L311.04,407.14 L311.53,404.45 L312.03,402.04 L312.52,399.91 L313.02,398.07 L313.52,396.52 L314.01,395.25 L314.51,394.27 L315.01,393.56 L315.50,393.14 L316.00,393.00 L316.49,393.28 L316.97,394.12 L317.46,395.53 L317.95,397.52 L318.43,400.10 L318.92,403.31 L319.41,407.18 L319.90,411.73 L320.38,417.02 L320.87,423.12 L321.36,430.08 L321.84,438.02 L322.33,447.03 L322.82,457.27 L323.30,468.90 L323.79,482.15 L324.28,497.28 L324.77,514.58 L325.25,534.28 L325.74,556.28 L326.23,579.34 L326.71,599.20 L327.20,607.60 L327.69,562.81 L328.18,505.35 L328.67,462.72 L329.16,430.59 L329.65,405.31 L330.14,384.76 L330.63,367.65 L331.12,353.20 L331.61,340.85 L332.10,330.23 L332.60,321.08 L333.09,313.19 L333.58,306.43 L334.07,300.66 L334.56,295.81 L335.05,291.80 L335.54,288.58 L336.03,286.12 L336.52,284.38 L337.01,283.34 L337.50,283.00 L338.00,283.11 L338.50,283.45 L339.00,284.00 L339.50,284.79 L340.00,285.80 L340.50,287.05 L341.00,288.53 L341.50,290.26 L342.00,292.24 L342.50,294.48 L343.00,296.98 L343.50,299.77 L344.00,302.84 L344.50,306.22 L345.00,309.93 L345.50,313.98 L346.00,318.40 L346.50,323.21 L347.00,328.46 L347.50,334.16 L348.00,340.38 L348.50,347.15 L349.00,354.56 L349.50,362.68 L350.00,371.60 L350.50,381.46 L351.00,392.42 L351.50,404.68 L352.00,418.55 L352.50,434.41 L353.00,452.85 L353.50,474.78 L354.00,501.67 L354.50,536.22 L355.00,584.10 L355.50,659.72 L356.00,760.00 L356.50,590.74 L357.00,508.45 L357.50,459.40 L358.00,424.69 L358.50,398.02 L359.00,376.53 L359.50,358.69 L360.00,343.56 L360.50,330.56 L361.00,319.27 L361.50,309.42 L362.00,300.79 L362.50,293.22 L363.00,286.58 L363.50,280.79 L364.00,275.76 L364.50,271.44 L365.00,267.78 L365.50,264.73 L366.00,262.28 L366.50,260.40 L367.00,259.06 L367.50,258.26 L368.00,258.00 L368.50,258.52 L369.00,260.08 L369.50,262.63 L370.00,266.13 L370.50,270.47 L371.00,275.50 L371.50,280.97 L372.00,286.54 L372.50,291.76 L373.00,296.10 L373.50,298.98 L374.00,300.00 L374.49,296.34 L374.98,286.86 L375.47,274.68 L375.96,262.43 L376.44,251.60 L376.93,242.91 L377.42,236.64 L377.91,232.86 L378.40,231.60 L378.88,231.82 L379.37,232.48 L379.85,233.58 L380.33,235.12 L380.82,237.12 L381.30,239.57 L381.78,242.50 L382.27,245.91 L382.75,249.80 L383.23,254.21 L383.72,259.12 L384.20,264.56 L384.68,270.52 L385.17,277.01 L385.65,283.99 L386.13,291.41 L386.62,299.20 L387.10,307.20 L387.58,315.19 L388.07,322.83 L388.55,329.67 L389.03,335.16 L389.52,338.75 L390.00,340.00 L390.50,339.20 L391.00,336.90 L391.50,333.29 L392.00,328.68 L392.50,323.40 L393.00,317.73 L393.50,311.94 L394.00,306.23 L394.50,300.74 L395.00,295.57 L395.50,290.80 L396.00,286.48 L396.50,282.64 L397.00,279.30 L397.50,276.46 L398.00,274.13 L398.50,272.33 L399.00,271.03 L399.50,270.26 L400.00,270.00 L400.50,270.43 L401.00,271.71 L401.50,273.87 L402.00,276.92 L402.50,280.90 L403.00,285.86 L403.50,291.86 L404.00,298.96 L404.50,307.26 L405.00,316.84 L405.50,327.82 L406.00,340.27 L406.50,354.19 L407.00,369.39 L407.50,385.25 L408.00,400.25 L408.50,411.64 L409.00,416.00 L409.50,414.03 L410.00,408.48 L410.50,400.27 L411.00,390.42 L411.50,379.81 L412.00,369.06 L412.50,358.55 L413.00,348.49 L413.50,338.98 L414.00,330.07 L414.50,321.76 L415.00,314.03 L415.50,306.86 L416.00,300.21 L416.50,294.05 L417.00,288.36 L417.50,283.11 L418.00,278.27 L418.50,273.81 L419.00,269.73 L419.50,266.00 L420.00,262.60 L420.50,259.52 L421.00,256.74 L421.50,254.26 L422.00,252.07 L422.50,250.15 L423.00,248.50 L423.50,247.11 L424.00,245.99 L424.50,245.12 L425.00,244.50 L425.50,244.12 L426.00,244.00 L426.50,244.38 L426.99,245.53 L427.49,247.46 L427.98,250.19 L428.48,253.77 L428.97,258.24 L429.46,263.67 L429.96,270.15 L430.45,277.79 L430.95,286.76 L431.44,297.25 L431.94,309.54 L432.44,324.05 L432.93,341.35 L433.42,362.36 L433.92,388.59 L434.41,422.85 L434.91,471.21 L435.40,550.93 L435.90,685.00 L436.39,598.89 L436.88,526.19 L437.38,479.16 L437.87,445.11 L438.36,418.68 L438.85,397.24 L439.35,379.33 L439.84,364.08 L440.33,350.90 L440.82,339.39 L441.32,329.28 L441.81,320.34 L442.30,312.43 L442.79,305.42 L443.28,299.21 L443.78,293.73 L444.27,288.91 L444.76,284.71 L445.25,281.08 L445.75,277.99 L446.24,275.42 L446.73,273.34 L447.22,271.74 L447.72,270.60 L448.21,269.93 L448.70,269.70 L449.18,270.43 L449.66,272.57 L450.13,276.00 L450.61,280.48 L451.09,285.64 L451.57,290.92 L452.04,295.59 L452.52,298.83 L453.00,300.00 L453.48,298.83 L453.96,295.59 L454.43,290.92 L454.91,285.64 L455.39,280.48 L455.87,276.00 L456.34,272.57 L456.82,270.43 L457.30,269.70 L457.79,269.83 L458.28,270.24 L458.76,270.91 L459.25,271.85 L459.74,273.06 L460.23,274.56 L460.71,276.34 L461.20,278.41 L461.69,280.78 L462.18,283.45 L462.66,286.44 L463.15,289.75 L463.64,293.40 L464.12,297.40 L464.61,301.77 L465.10,306.52 L465.59,311.66 L466.07,317.22 L466.56,323.20 L467.05,329.61 L467.54,336.47 L468.02,343.77 L468.51,351.48 L469.00,359.57 L469.49,367.95 L469.97,376.47 L470.46,384.90 L470.95,392.92 L471.44,400.06 L471.92,405.77 L472.41,409.50 L472.90,410.80 L473.38,407.26 L473.85,397.83 L474.33,385.01 L474.81,371.06 L475.28,357.38 L475.76,344.67 L476.24,333.20 L476.71,323.05 L477.19,314.19 L477.66,306.57 L478.14,300.12 L478.62,294.78 L479.09,290.48 L479.57,287.18 L480.05,284.85 L480.52,283.46 L481.00,283.00 L481.50,284.78 L482.00,289.58 L482.50,296.57 L483.00,304.92 L483.50,313.83 L484.00,322.46 L484.50,330.00 L485.00,320.77 L485.50,311.55 L486.00,300.00 L486.43,286.06 L486.87,269.80 L487.30,254.50 L487.73,241.70 L488.15,229.70 L488.57,217.73 L489.00,205.00 L489.47,188.83 L489.93,171.77 L490.40,157.00 L490.84,145.98 L491.28,136.21 L491.72,127.05 L492.16,117.86 L492.60,108.00 L493.08,96.42 L493.55,84.36 L494.02,72.12 L494.50,60.00 L494.90,49.60 L495.30,40.00 L495.75,29.62 L496.20,24.00 L496.65,30.16 L497.10,40.00 L497.53,46.08 L497.97,51.87 L498.40,60.00 L498.80,70.57 L499.20,82.81 L499.60,95.64 L500.00,108.00 L500.43,119.82 L500.85,131.11 L501.27,143.10 L501.70,157.00 L502.20,179.08 L502.70,205.00 L503.15,232.63 L503.60,254.50 L504.08,265.12 L504.56,272.95 L505.04,279.02 L505.52,284.36 L506.00,290.00 L506.50,296.50 L507.00,303.05 L507.50,309.48 L508.00,315.59 L508.50,321.17 L509.00,326.04 L509.50,330.00 L510.00,333.34 L510.50,336.51 L511.00,339.51 L511.50,342.36 L512.00,345.08 L512.50,347.69 L513.00,350.20 L513.50,352.63 L514.00,354.99 L514.50,357.30 L515.00,359.58 L515.50,361.85 L516.00,364.11 L516.50,366.39 L517.00,368.70 L517.50,371.06 L518.00,373.49 L518.50,376.00 L518.97,373.16 L519.44,365.49 L519.91,354.83 L520.39,343.03 L520.86,331.34 L521.33,320.48 L521.80,310.80 L522.27,302.44 L522.74,295.42 L523.21,289.74 L523.69,285.36 L524.16,282.26 L524.63,280.41 L525.10,279.80 L525.60,280.03 L526.09,280.72 L526.59,281.86 L527.08,283.47 L527.58,285.54 L528.07,288.08 L528.57,291.08 L529.06,294.56 L529.56,298.49 L530.05,302.88 L530.55,307.70 L531.05,312.94 L531.54,318.54 L532.04,324.43 L532.53,330.51 L533.03,336.64 L533.52,342.60 L534.02,348.15 L534.51,352.98 L535.01,356.75 L535.50,359.17 L536.00,360.00 L536.49,358.94 L536.97,355.87 L537.46,351.14 L537.95,345.19 L538.43,338.48 L538.92,331.39 L539.40,324.24 L539.89,317.26 L540.38,310.58 L540.86,304.30 L541.35,298.50 L541.84,293.19 L542.32,288.40 L542.81,284.13 L543.30,280.38 L543.78,277.15 L544.27,274.43 L544.75,272.21 L545.24,270.50 L545.73,269.28 L546.21,268.54 L546.70,268.30 L547.19,268.76 L547.68,270.16 L548.17,272.52 L548.66,275.87 L549.14,280.26 L549.63,285.77 L550.12,292.51 L550.61,300.60 L551.10,310.24 L551.59,321.65 L552.08,335.19 L552.57,351.33 L553.06,370.77 L553.54,394.52 L554.03,424.09 L554.52,461.29 L555.01,504.86 L555.50,531.00 L555.97,484.98 L556.45,427.10 L556.92,384.78 L557.39,353.34 L557.87,329.03 L558.34,309.70 L558.81,294.08 L559.29,281.38 L559.76,271.06 L560.23,262.77 L560.71,256.25 L561.18,251.33 L561.65,247.90 L562.13,245.87 L562.60,245.20 L563.10,245.41 L563.59,246.02 L564.09,247.06 L564.58,248.51 L565.08,250.39 L565.58,252.70 L566.07,255.46 L566.57,258.67 L567.06,262.34 L567.56,266.49 L568.06,271.14 L568.55,276.29 L569.05,281.96 L569.54,288.15 L570.04,294.86 L570.54,302.06 L571.03,309.72 L571.53,317.75 L572.02,326.01 L572.52,334.25 L573.02,342.16 L573.51,349.25 L574.01,354.96 L574.50,358.69 L575.00,360.00 L575.50,359.45 L576.00,357.82 L576.50,355.24 L577.00,351.85 L577.50,347.84 L578.00,343.40 L578.50,338.69 L579.00,333.87 L579.50,329.07 L580.00,324.37 L580.50,319.85 L581.00,315.57 L581.50,311.57 L582.00,307.87 L582.50,304.50 L583.00,301.47 L583.50,298.79 L584.00,296.46 L584.50,294.49 L585.00,292.87 L585.50,291.61 L586.00,290.72 L586.50,290.18 L587.00,290.00 L587.50,290.72 L588.00,292.87 L588.50,296.46 L589.00,301.47 L589.50,307.87 L590.00,315.57 L590.50,324.37 L591.00,333.87 L591.50,343.40 L592.00,351.85 L592.50,357.82 L593.00,360.00 L593.48,356.81 L593.97,348.31 L594.45,336.82 L594.93,324.47 L595.42,312.65 L595.90,302.06 L596.38,293.03 L596.87,285.65 L597.35,279.95 L597.83,275.91 L598.32,273.50 L598.80,272.70 L599.26,273.80 L599.71,277.00 L600.17,281.93 L600.63,287.92 L601.09,293.85 L601.54,298.32 L602.00,300.00 L602.49,298.86 L602.98,295.65 L603.47,290.90 L603.96,285.29 L604.45,279.45 L604.95,273.91 L605.44,269.02 L605.93,265.03 L606.42,262.10 L606.91,260.30 L607.40,259.70 L607.89,260.45 L608.37,262.72 L608.86,266.57 L609.34,272.08 L609.83,279.40 L610.31,288.73 L610.80,300.37 L611.29,314.73 L611.77,332.38 L612.26,354.12 L612.74,380.95 L613.23,413.48 L613.71,448.23 L614.20,466.50 L614.69,461.54 L615.18,448.76 L615.67,432.22 L616.16,414.96 L616.65,398.53 L617.15,383.49 L617.64,369.98 L618.13,357.93 L618.62,347.22 L619.11,337.74 L619.60,329.36 L620.09,321.98 L620.58,315.52 L621.07,309.90 L621.56,305.07 L622.05,300.96 L622.55,297.55 L623.04,294.80 L623.53,292.69 L624.02,291.19 L624.51,290.30 L625.00,290.00 L625.50,290.18 L626.00,290.72 L626.50,291.59 L627.00,292.78 L627.50,294.28 L628.00,296.07 L628.50,298.14 L629.00,300.46 L629.50,303.03 L630.00,305.82 L630.50,308.83 L631.00,312.03 L631.50,315.41 L632.00,318.95 L632.50,322.65 L633.00,326.48 L633.50,330.42 L634.00,334.47 L634.50,338.60 L635.00,342.80 L635.50,347.06 L636.00,351.36 L636.50,355.67 L637.00,360.00 L637.50,364.72 L638.00,370.18 L638.50,376.26 L639.00,382.88 L639.50,389.93 L640.00,397.32 L640.50,404.94 L641.00,412.69 L641.50,420.48 L642.00,428.21 L642.50,435.77 L643.00,443.07 L643.50,450.00 L644.00,456.68 L644.50,463.31 L645.00,469.87 L645.50,476.39 L646.00,482.87 L646.50,489.33 L647.00,495.77 L647.50,502.20 L648.00,508.62 L648.50,515.06 L649.00,521.52 L649.50,528.00 L650.00,523.34 L650.50,519.05 L651.00,515.05 L651.50,511.25 L652.00,507.57 L652.50,503.91 L653.00,500.20 L653.50,496.34 L654.00,492.25 L654.50,487.85 L655.00,483.05 L655.50,477.76 L656.00,471.89 L656.50,465.37 L657.00,458.10 L657.50,450.00 L658.00,438.16 L658.50,421.07 L659.00,400.71 L659.50,379.09 L660.00,358.18 L660.50,340.00 L660.96,324.14 L661.41,307.00 L661.87,289.95 L662.33,274.32 L662.79,261.49 L663.24,252.80 L663.70,249.60 L664.18,250.30 L664.66,252.40 L665.15,255.85 L665.63,260.59 L666.11,266.49 L666.59,273.29 L667.07,280.61 L667.55,287.83 L668.04,294.11 L668.52,298.44 L669.00,300.00 L669.48,298.88 L669.96,295.74 L670.44,291.14 L670.92,285.80 L671.40,280.37 L671.88,275.38 L672.36,271.20 L672.84,268.08 L673.32,266.15 L673.80,265.50 L674.30,265.76 L674.80,266.56 L675.30,267.89 L675.80,269.78 L676.30,272.23 L676.80,275.27 L677.30,278.93 L677.80,283.25 L678.30,288.28 L678.80,294.07 L679.30,300.70 L679.80,308.27 L680.30,316.90 L680.80,326.74 L681.30,338.02 L681.80,351.01 L682.30,366.12 L682.80,383.94 L683.30,405.38 L683.80,431.96 L684.30,466.48 L684.80,515.02 L685.30,594.73 L685.80,727.50 L686.29,660.28 L686.78,592.72 L687.28,546.79 L687.77,512.94 L688.26,486.35 L688.75,464.56 L689.25,446.16 L689.74,430.29 L690.23,416.39 L690.72,404.06 L691.22,393.02 L691.71,383.05 L692.20,374.00 L692.69,365.75 L693.19,358.19 L693.68,351.24 L694.17,344.85 L694.66,338.95 L695.16,333.50 L695.65,328.46 L696.14,323.80 L696.63,319.50 L697.13,315.52 L697.62,311.85 L698.11,308.47 L698.61,305.37 L699.10,302.53 L699.59,299.94 L700.08,297.59 L700.58,295.47 L701.07,293.57 L701.56,291.89 L702.05,290.42 L702.54,289.16 L703.04,288.09 L703.53,287.23 L704.02,286.56 L704.51,286.08 L705.01,285.80 L705.50,285.70 L706.00,286.34 L706.50,288.26 L707.00,291.41 L707.50,295.71 L708.00,301.01 L708.50,307.06 L709.00,313.48 L709.50,319.73 L710.00,325.06 L710.50,328.70 L711.00,330.00 L711.50,328.85 L712.00,325.61 L712.50,320.78 L713.00,315.00 L713.50,308.89 L714.00,302.95 L714.50,297.52 L715.00,292.87 L715.50,289.13 L716.00,286.41 L716.50,284.75 L717.00,284.20 L717.50,284.66 L718.00,286.05 L718.50,288.34 L719.00,291.53 L719.50,295.59 L720.00,300.44 L720.50,306.00 L721.00,312.11 L721.50,318.54 L722.00,324.93 L722.50,330.82 L723.00,335.67 L723.50,338.87 L724.00,340.00 L724.47,337.66 L724.94,331.27 L725.41,322.22 L725.88,312.03 L726.35,301.81 L726.82,292.26 L727.28,283.76 L727.75,276.49 L728.22,270.54 L728.69,265.91 L729.16,262.62 L729.63,260.66 L730.10,260.00 L730.58,260.78 L731.06,263.13 L731.54,267.12 L732.01,272.86 L732.49,280.52 L732.97,290.35 L733.45,302.73 L733.93,318.24 L734.41,337.76 L734.89,362.82 L735.36,396.25 L735.84,444.24 L736.32,525.02 L736.80,677.20 L737.29,545.16 L737.79,465.78 L738.28,417.69 L738.78,383.80 L739.27,358.02 L739.76,337.57 L740.26,320.93 L740.75,307.20 L741.25,295.80 L741.74,286.33 L742.24,278.51 L742.73,272.16 L743.22,267.13 L743.72,263.30 L744.21,260.62 L744.71,259.03 L745.20,258.50 L745.68,259.66 L746.15,263.09 L746.62,268.61 L747.10,275.83 L747.58,284.00 L748.05,291.89 L748.52,297.79 L749.00,300.00 L749.47,298.33 L749.93,293.75 L750.40,287.33 L750.87,280.27 L751.33,273.55 L751.80,267.84 L752.27,263.54 L752.73,260.89 L753.20,260.00 L753.68,261.03 L754.16,264.13 L754.64,269.30 L755.12,276.48 L755.60,285.57 L756.08,296.23 L756.56,307.73 L757.04,318.68 L757.52,326.90 L758.00,330.00 L758.48,327.91 L758.96,322.17 L759.45,314.09 L759.93,305.06 L760.41,296.14 L760.89,288.05 L761.37,281.17 L761.85,275.71 L762.34,271.77 L762.82,269.39 L763.30,268.60 L763.80,268.74 L764.29,269.16 L764.79,269.85 L765.29,270.83 L765.78,272.10 L766.28,273.66 L766.78,275.51 L767.27,277.68 L767.77,280.15 L768.27,282.95 L768.77,286.09 L769.26,289.58 L769.76,293.44 L770.26,297.69 L770.75,302.34 L771.25,307.42 L771.75,312.96 L772.24,318.98 L772.74,325.51 L773.24,332.60 L773.73,340.26 L774.23,348.53 L774.73,357.43 L775.23,366.96 L775.72,377.08 L776.22,387.70 L776.72,398.62 L777.21,409.44 L777.71,419.54 L778.21,428.01 L778.70,433.75 L779.20,435.80 L779.67,428.35 L780.15,410.47 L780.62,389.40 L781.09,369.19 L781.57,351.24 L782.04,335.77 L782.51,322.61 L782.99,311.55 L783.46,302.37 L783.93,294.87 L784.41,288.91 L784.88,284.39 L785.35,281.21 L785.83,279.32 L786.30,278.70 L786.80,279.22 L787.30,280.78 L787.80,283.41 L788.30,287.15 L788.80,292.08 L789.30,298.28 L789.80,305.88 L790.30,315.05 L790.80,326.03 L791.30,339.15 L791.80,354.84 L792.30,373.76 L792.80,396.82 L793.30,425.26 L793.80,460.26 L794.30,499.26 L794.80,521.00 L795.29,491.75 L795.79,445.33 L796.28,406.92 L796.78,376.80 L797.27,352.76 L797.77,333.16 L798.26,316.92 L798.76,303.31 L799.25,291.85 L799.74,282.18 L800.24,274.07 L800.73,267.31 L801.23,261.78 L801.72,257.38 L802.22,254.03 L802.71,251.67 L803.21,250.27 L803.70,249.80 L804.19,250.18 L804.68,251.34 L805.16,253.26 L805.65,255.96 L806.14,259.44 L806.63,263.70 L807.12,268.73 L807.61,274.53 L808.09,281.05 L808.58,288.20 L809.07,295.85 L809.56,303.76 L810.05,311.57 L810.54,318.76 L811.02,324.68 L811.51,328.61 L812.00,330.00 L812.50,328.98 L813.00,326.06 L813.50,321.57 L814.00,315.96 L814.50,309.67 L815.00,303.11 L815.50,296.58 L816.00,290.30 L816.50,284.43 L817.00,279.08 L817.50,274.29 L818.00,270.12 L818.50,266.57 L819.00,263.66 L819.50,261.40 L820.00,259.79 L820.50,258.82 L821.00,258.50 L821.49,258.72 L821.98,259.38 L822.48,260.48 L822.97,262.04 L823.46,264.06 L823.95,266.56 L824.45,269.56 L824.94,273.07 L825.43,277.13 L825.92,281.78 L826.42,287.05 L826.91,292.99 L827.40,299.67 L827.89,307.16 L828.38,315.56 L828.88,324.97 L829.37,335.53 L829.86,347.41 L830.35,360.82 L830.85,376.00 L831.34,393.18 L831.83,412.55 L832.32,433.89 L832.82,455.84 L833.31,474.32 L833.80,482.00 L834.29,474.55 L834.77,456.53 L835.26,435.00 L835.75,414.01 L836.24,394.92 L836.72,377.99 L837.21,363.06 L837.70,349.90 L838.19,338.28 L838.67,328.01 L839.16,318.90 L839.65,310.84 L840.14,303.71 L840.62,297.43 L841.11,291.91 L841.60,287.11 L842.09,282.96 L842.58,279.44 L843.06,276.51 L843.55,274.14 L844.04,272.32 L844.52,271.03 L845.01,270.26 L845.50,270.00 L846.00,270.63 L846.50,272.51 L847.00,275.70 L847.50,280.23 L848.00,286.19 L848.50,293.70 L849.00,302.91 L849.50,313.99 L850.00,327.18 L850.50,342.71 L851.00,360.75 L851.50,381.08 L852.00,402.34 L852.50,420.44 L853.00,428.00 L853.50,426.76 L854.00,423.18 L854.50,417.65 L855.00,410.70 L855.50,402.81 L856.00,394.44 L856.50,385.88 L857.00,377.38 L857.50,369.08 L858.00,361.06 L858.50,353.39 L859.00,346.07 L859.50,339.12 L860.00,332.53 L860.50,326.30 L861.00,320.42 L861.50,314.86 L862.00,309.61 L862.50,304.66 L863.00,299.99 L863.50,295.59 L864.00,291.45 L864.50,287.55 L865.00,283.88 L865.50,280.43 L866.00,277.19 L866.50,274.16 L867.00,271.32 L867.50,268.67 L868.00,266.21 L868.50,263.92 L869.00,261.79 L869.50,259.84 L870.00,258.05 L870.50,256.41 L871.00,254.92 L871.50,253.59 L872.00,252.40 L872.50,251.36 L873.00,250.47 L873.50,249.71 L874.00,249.09 L874.50,248.61 L875.00,248.27 L875.50,248.07 L876.00,248.00 L876.49,248.35 L876.97,249.38 L877.46,251.13 L877.94,253.60 L878.43,256.83 L878.91,260.85 L879.40,265.72 L879.89,271.51 L880.37,278.31 L880.86,286.23 L881.34,295.44 L881.83,306.13 L882.31,318.58 L882.80,333.19 L883.29,350.52 L883.77,371.45 L884.26,397.41 L884.74,430.94 L885.23,477.15 L885.71,547.16 L886.20,623.10 L886.69,589.24 L887.19,538.79 L887.68,498.28 L888.17,466.62 L888.66,441.10 L889.16,419.88 L889.65,401.82 L890.14,386.16 L890.64,372.37 L891.13,360.11 L891.62,349.09 L892.11,339.12 L892.61,330.05 L893.10,321.76 L893.59,314.15 L894.09,307.13 L894.58,300.66 L895.07,294.67 L895.56,289.11 L896.06,283.97 L896.55,279.19 L897.04,274.75 L897.54,270.64 L898.03,266.82 L898.52,263.29 L899.01,260.02 L899.51,257.00 L900.00,254.23 L900.49,251.68 L900.99,249.35 L901.48,247.24 L901.97,245.33 L902.46,243.62 L902.96,242.10 L903.45,240.77 L903.94,239.63 L904.44,238.67 L904.93,237.88 L905.42,237.28 L905.91,236.85 L906.41,236.59 L906.90,236.50 L907.39,236.57 L907.88,236.77 L908.37,237.11 L908.87,237.59 L909.36,238.21 L909.85,238.97 L910.34,239.87 L910.83,240.91 L911.32,242.10 L911.81,243.44 L912.31,244.93 L912.80,246.57 L913.29,248.38 L913.78,250.35 L914.27,252.49 L914.76,254.80 L915.26,257.30 L915.75,259.99 L916.24,262.87 L916.73,265.96 L917.22,269.26 L917.71,272.80 L918.20,276.57 L918.70,280.60 L919.19,284.90 L919.68,289.49 L920.17,294.39 L920.66,299.62 L921.15,305.22 L921.64,311.21 L922.14,317.63 L922.63,324.52 L923.12,331.94 L923.61,339.94 L924.10,348.58 L924.59,357.96 L925.09,368.17 L925.58,379.31 L926.07,391.51 L926.56,404.92 L927.05,419.67 L927.54,435.83 L928.03,453.32 L928.53,471.60 L929.02,489.12 L929.51,502.71 L930.00,508.00 L930.50,505.60 L931.00,498.92 L931.50,489.22 L932.00,477.83 L932.50,465.80 L933.00,453.81 L933.50,442.23 L934.00,431.23 L934.50,420.90 L935.00,411.23 L935.50,402.21 L936.00,393.81 L936.50,385.98 L937.00,378.68 L937.50,371.87 L938.00,365.51 L938.50,359.58 L939.00,354.03 L939.50,348.85 L940.00,344.00 L940.50,339.48 L941.00,335.25 L941.50,331.30 L942.00,327.62 L942.50,324.19 L943.00,321.01 L943.50,318.05 L944.00,315.31 L944.50,312.78 L945.00,310.46 L945.50,308.33 L946.00,306.39 L946.50,304.64 L947.00,303.07 L947.50,301.67 L948.00,300.45 L948.50,299.39 L949.00,298.50 L949.50,297.78 L950.00,297.22 L950.50,296.82 L951.00,296.58 L951.50,296.50 L951.99,296.52 L952.48,296.57 L952.97,296.65 L953.46,296.76 L953.95,296.90 L954.45,297.08 L954.94,297.28 L955.43,297.51 L955.92,297.76 L956.41,298.04 L956.90,298.34 L957.39,298.65 L957.88,298.99 L958.37,299.33 L958.86,299.69 L959.35,300.05 L959.85,300.41 L960.34,300.78 L960.83,301.14 L961.32,301.50 L961.81,301.85 L962.30,302.18 L962.79,302.50 L963.28,302.80 L963.77,303.08 L964.26,303.33 L964.75,303.55 L965.25,303.75 L965.74,303.91 L966.23,304.03 L966.72,304.13 L967.21,304.18 L967.70,304.20 L968.19,304.10 L968.67,304.02 L969.16,303.96 L969.65,303.91 L970.13,303.86 L970.62,303.82 L971.11,303.77 L971.59,303.71 L972.08,303.63 L972.57,303.53 L973.05,303.40 L973.54,303.24 L974.03,303.04 L974.51,302.79 L975.00,302.50 L975.50,302.15 L976.00,301.78 L976.50,301.37 L977.00,300.93 L977.50,300.48 L978.00,300.00 L978.50,299.50 L979.00,299.00 L979.50,298.48 L980.00,297.95 L980.50,297.42 L981.00,296.89 L981.50,296.35 L982.00,295.83 L982.50,295.31 L983.00,294.80 L983.50,294.31 L984.00,293.83 L984.50,293.37 L985.00,292.94 L985.50,292.53 L986.00,292.15 L986.50,291.81 L987.00,291.50 L987.50,291.22 L988.00,290.95 L988.50,290.69 L989.00,290.44 L989.50,290.21 L990.00,289.99 L990.50,289.78 L991.00,289.58 L991.50,289.39 L992.00,289.21 L992.50,289.04 L993.00,288.87 L993.50,288.72 L994.00,288.57 L994.50,288.43 L995.00,288.29 L995.50,288.16 L996.00,288.04 L996.50,287.92 L997.00,287.81 L997.50,287.70 L998.00,287.59 L998.50,287.49 L999.00,287.39 L999.50,287.29 L1000.00,287.19 L1000.50,287.09 L1001.00,286.99 L1001.50,286.90 L1002.00,286.80 L1002.50,286.71 L1003.00,286.62 L1003.50,286.54 L1004.00,286.48 L1004.50,286.41 L1005.00,286.36 L1005.50,286.31 L1006.00,286.27 L1006.50,286.23 L1007.00,286.20 L1007.50,286.17 L1008.00,286.15 L1008.50,286.13 L1009.00,286.11 L1009.50,286.10 L1010.00,286.09 L1010.50,286.08 L1011.00,286.07 L1011.50,286.06 L1012.00,286.06 L1012.50,286.05 L1013.00,286.04 L1013.50,286.04 L1014.00,286.03 L1014.50,286.01 L1015.00,286.00 L1015.50,285.99 L1016.00,285.97 L1016.50,285.96 L1017.00,285.96 L1017.50,285.95 L1018.00,285.95 L1018.50,285.94 L1019.00,285.94 L1019.50,285.94 L1020.00,285.94 L1020.50,285.94 L1021.00,285.95 L1021.50,285.95 L1022.00,285.95 L1022.50,285.96 L1023.00,285.96 L1023.50,285.97 L1024.00,285.97 L1024.50,285.98 L1025.00,285.98 L1025.50,285.99 L1026.00,285.99 L1026.50,286.00 L1027.00,286.00 L1027.50,286.00 L1028.00,286.00" fill="none" stroke="#00f" stroke-width="3.9" stroke-linejoin="round" stroke-linecap="butt" stroke-dasharray="16.5 16.8"/>
<path d="M117.00,315.90 L117.49,315.91 L117.98,315.91 L118.47,315.92 L118.96,315.92 L119.45,315.92 L119.94,315.91 L120.43,315.91 L120.92,315.90 L121.41,315.90 L121.90,315.89 L122.39,315.88 L122.88,315.87 L123.37,315.86 L123.86,315.85 L124.35,315.84 L124.84,315.83 L125.33,315.82 L125.82,315.82 L126.31,315.81 L126.80,315.80 L127.29,315.80 L127.78,315.80 L128.27,315.80 L128.76,315.80 L129.25,315.80 L129.74,315.81 L130.23,315.82 L130.72,315.83 L131.21,315.85 L131.70,315.87 L132.19,315.89 L132.68,315.92 L133.17,315.95 L133.66,315.98 L134.15,316.02 L134.64,316.07 L135.13,316.12 L135.62,316.17 L136.11,316.23 L136.60,316.30 L137.09,316.37 L137.59,316.45 L138.08,316.54 L138.58,316.64 L139.07,316.74 L139.57,316.86 L140.06,316.99 L140.56,317.14 L141.05,317.30 L141.55,317.48 L142.04,317.67 L142.54,317.88 L143.03,318.12 L143.53,318.37 L144.02,318.65 L144.52,318.95 L145.01,319.27 L145.51,319.62 L146.00,320.00 L146.50,320.42 L147.00,320.88 L147.50,321.39 L148.00,321.95 L148.50,322.56 L149.00,323.23 L149.50,323.95 L150.00,324.73 L150.50,325.58 L151.00,326.48 L151.50,327.46 L152.00,328.50 L152.50,329.60 L153.00,330.75 L153.50,331.95 L154.00,333.20 L154.50,334.49 L155.00,335.83 L155.50,337.21 L156.00,338.63 L156.50,340.09 L157.00,341.60 L157.50,343.14 L158.00,344.73 L158.50,346.34 L159.00,348.00 L159.50,349.72 L160.00,351.54 L160.50,353.43 L161.00,355.39 L161.50,357.40 L162.00,359.45 L162.50,361.54 L163.00,363.64 L163.50,365.75 L164.00,367.86 L164.50,369.94 L165.00,372.00 L165.48,374.05 L165.96,376.29 L166.43,378.69 L166.91,381.19 L167.39,383.77 L167.87,386.40 L168.34,389.02 L168.82,391.61 L169.30,394.13 L169.78,396.54 L170.26,398.81 L170.73,400.89 L171.21,402.76 L171.69,404.37 L172.17,405.68 L172.64,406.67 L173.12,407.29 L173.60,407.50 L174.09,406.93 L174.58,405.26 L175.07,402.57 L175.57,399.01 L176.06,394.74 L176.55,389.92 L177.04,384.72 L177.53,379.27 L178.03,373.69 L178.52,368.06 L179.01,362.47 L179.50,356.96 L179.99,351.58 L180.48,346.34 L180.97,341.28 L181.47,336.40 L181.96,331.70 L182.45,327.21 L182.94,322.90 L183.43,318.79 L183.92,314.87 L184.42,311.14 L184.91,307.59 L185.40,304.22 L185.89,301.02 L186.38,297.99 L186.88,295.13 L187.37,292.43 L187.86,289.89 L188.35,287.50 L188.84,285.26 L189.33,283.17 L189.82,281.22 L190.32,279.41 L190.81,277.73 L191.30,276.19 L191.79,274.78 L192.28,273.50 L192.77,272.35 L193.27,271.32 L193.76,270.42 L194.25,269.64 L194.74,268.99 L195.23,268.45 L195.72,268.03 L196.22,267.74 L196.71,267.56 L197.20,267.50 L197.70,267.61 L198.20,267.92 L198.70,268.45 L199.20,269.20 L199.70,270.16 L200.20,271.34 L200.70,272.74 L201.20,274.38 L201.70,276.25 L202.20,278.36 L202.70,280.73 L203.20,283.36 L203.70,286.26 L204.20,289.44 L204.70,292.93 L205.20,296.74 L205.70,300.88 L206.20,305.39 L206.70,310.29 L207.20,315.60 L207.70,321.38 L208.20,327.67 L208.70,334.51 L209.20,341.98 L209.70,350.15 L210.20,359.13 L210.70,369.04 L211.20,380.04 L211.70,392.35 L212.20,406.25 L212.70,422.16 L213.20,440.65 L213.70,462.63 L214.20,489.59 L214.70,524.29 L215.20,572.52 L215.70,649.73 L216.20,760.00 L216.68,689.77 L217.16,621.68 L217.64,576.31 L218.12,543.54 L218.61,518.42 L219.09,498.47 L219.57,482.30 L220.05,469.03 L220.53,458.11 L221.01,449.17 L221.49,441.94 L221.97,436.23 L222.46,431.91 L222.94,428.89 L223.42,427.09 L223.90,426.50 L224.39,427.33 L224.88,429.84 L225.38,434.08 L225.87,440.16 L226.36,448.22 L226.85,458.46 L227.35,471.15 L227.84,486.62 L228.33,505.18 L228.82,526.89 L229.32,550.67 L229.81,572.11 L230.30,581.50 L230.80,569.42 L231.30,543.12 L231.80,515.12 L232.30,489.91 L232.80,468.07 L233.30,449.22 L233.80,432.86 L234.30,418.53 L234.80,405.90 L235.30,394.69 L235.80,384.68 L236.30,375.72 L236.80,367.67 L237.30,360.43 L237.80,353.91 L238.30,348.05 L238.80,342.79 L239.30,338.08 L239.80,333.88 L240.30,330.17 L240.80,326.90 L241.30,324.07 L241.80,321.65 L242.30,319.62 L242.80,317.98 L243.30,316.72 L243.80,315.82 L244.30,315.28 L244.80,315.10 L245.29,315.21 L245.78,315.52 L246.27,316.05 L246.76,316.79 L247.25,317.74 L247.74,318.90 L248.23,320.26 L248.72,321.83 L249.21,323.59 L249.70,325.55 L250.19,327.69 L250.68,330.01 L251.17,332.49 L251.66,335.13 L252.14,337.89 L252.63,340.78 L253.12,343.74 L253.61,346.77 L254.10,349.81 L254.59,352.82 L255.08,355.76 L255.57,358.57 L256.06,361.19 L256.55,363.55 L257.04,365.59 L257.53,367.26 L258.02,368.49 L258.51,369.24 L259.00,369.50 L259.50,369.24 L259.99,368.48 L260.49,367.25 L260.98,365.61 L261.48,363.62 L261.97,361.36 L262.47,358.91 L262.96,356.34 L263.46,353.73 L263.95,351.14 L264.45,348.63 L264.94,346.24 L265.44,344.02 L265.93,341.99 L266.43,340.19 L266.92,338.63 L267.42,337.34 L267.91,336.32 L268.41,335.59 L268.90,335.15 L269.40,335.00 L269.88,335.32 L270.36,336.29 L270.84,337.92 L271.32,340.21 L271.80,343.19 L272.28,346.86 L272.76,351.25 L273.24,356.40 L273.72,362.32 L274.20,369.05 L274.68,376.60 L275.16,384.97 L275.64,394.15 L276.12,404.02 L276.60,414.39 L277.08,424.88 L277.56,434.84 L278.04,443.32 L278.52,449.12 L279.00,451.20 L279.48,444.16 L279.97,436.86 L280.45,429.36 L280.93,421.71 L281.42,413.96 L281.90,406.16 L282.38,398.36 L282.87,390.61 L283.35,382.96 L283.83,375.47 L284.32,368.17 L284.80,361.13 L285.28,354.39 L285.77,348.00 L286.25,342.02 L286.73,336.49 L287.22,331.47 L287.70,327.00 L288.18,323.15 L288.66,319.89 L289.14,317.17 L289.62,314.93 L290.11,313.14 L290.59,311.76 L291.07,310.72 L291.55,309.99 L292.03,309.52 L292.51,309.26 L292.99,309.17 L293.47,309.20 L293.96,309.31 L294.44,309.44 L294.92,309.55 L295.40,309.60 L295.88,310.03 L296.36,311.34 L296.83,313.53 L297.31,316.64 L297.79,320.70 L298.27,325.76 L298.74,331.90 L299.22,339.18 L299.70,347.72 L300.18,357.63 L300.66,369.05 L301.13,382.11 L301.61,396.88 L302.09,413.28 L302.57,430.79 L303.04,447.86 L303.52,461.25 L304.00,466.50 L304.49,460.60 L304.97,445.89 L305.46,427.75 L305.94,409.76 L306.43,393.43 L306.91,379.21 L307.40,367.10 L307.89,356.98 L308.37,348.70 L308.86,342.11 L309.34,337.10 L309.83,333.58 L310.31,331.49 L310.80,330.80 L311.29,331.46 L311.77,333.46 L312.26,336.84 L312.75,341.67 L313.23,348.07 L313.72,356.19 L314.21,366.25 L314.69,378.59 L315.18,393.64 L315.67,412.04 L316.15,434.73 L316.64,462.99 L317.13,498.09 L317.61,537.65 L318.10,560.00 L318.57,550.79 L319.03,530.06 L319.50,507.67 L319.97,488.09 L320.43,472.41 L320.90,460.60 L321.37,452.40 L321.83,447.59 L322.30,446.00 L322.78,446.94 L323.26,449.74 L323.74,454.38 L324.22,460.76 L324.70,468.71 L325.18,477.83 L325.66,487.40 L326.14,496.22 L326.62,502.63 L327.10,505.00 L327.58,501.67 L328.06,492.93 L328.54,481.37 L329.02,469.35 L329.50,458.29 L329.98,448.91 L330.46,441.52 L330.94,436.23 L331.42,433.06 L331.90,432.00 L332.40,433.90 L332.90,439.65 L333.40,449.40 L333.90,463.31 L334.40,481.30 L334.90,502.16 L335.40,521.48 L335.90,530.00 L336.38,514.65 L336.85,483.66 L337.32,453.08 L337.80,427.00 L338.27,405.35 L338.75,387.40 L339.22,372.46 L339.70,360.01 L340.18,349.65 L340.65,341.09 L341.12,334.14 L341.60,328.63 L342.07,324.45 L342.55,321.52 L343.02,319.78 L343.50,319.20 L343.99,319.87 L344.49,321.88 L344.98,325.30 L345.47,330.18 L345.97,336.64 L346.46,344.86 L346.95,355.08 L347.45,367.63 L347.94,383.01 L348.43,401.96 L348.93,425.58 L349.42,455.64 L349.91,494.69 L350.41,543.32 L350.90,575.40 L351.39,553.68 L351.88,514.58 L352.37,479.28 L352.86,450.36 L353.35,426.67 L353.85,406.97 L354.34,390.33 L354.83,376.10 L355.32,363.84 L355.81,353.21 L356.30,343.97 L356.79,335.94 L357.28,328.97 L357.77,322.95 L358.26,317.80 L358.75,313.45 L359.25,309.84 L359.74,306.94 L360.23,304.72 L360.72,303.15 L361.21,302.21 L361.70,301.90 L362.18,302.66 L362.66,304.95 L363.14,308.83 L363.61,314.39 L364.09,321.79 L364.57,331.23 L365.05,343.04 L365.53,357.64 L366.01,375.70 L366.49,398.13 L366.96,426.25 L367.44,461.39 L367.92,501.28 L368.40,524.00 L368.89,509.84 L369.38,481.02 L369.87,452.74 L370.36,429.24 L370.85,410.67 L371.34,396.41 L371.83,385.88 L372.32,378.64 L372.81,374.40 L373.30,373.00 L373.77,373.90 L374.24,376.58 L374.71,381.00 L375.18,387.07 L375.65,394.57 L376.12,403.11 L376.59,411.98 L377.06,420.06 L377.53,425.87 L378.00,428.00 L378.49,423.82 L378.98,413.25 L379.46,400.20 L379.95,387.69 L380.44,377.28 L380.92,369.66 L381.41,365.04 L381.90,363.50 L382.40,363.81 L382.90,364.75 L383.40,366.33 L383.90,368.55 L384.40,371.46 L384.90,375.07 L385.40,379.43 L385.90,384.60 L386.40,390.63 L386.90,397.63 L387.40,405.69 L387.90,414.97 L388.40,425.64 L388.90,437.98 L389.40,452.30 L389.90,469.10 L390.40,489.05 L390.90,513.16 L391.40,542.87 L391.90,579.85 L392.40,622.50 L392.90,647.60 L393.38,577.98 L393.87,510.37 L394.35,465.55 L394.84,433.52 L395.32,409.36 L395.81,390.60 L396.29,375.84 L396.78,364.26 L397.26,355.31 L397.75,348.64 L398.23,344.02 L398.72,341.30 L399.20,340.40 L399.68,341.37 L400.16,344.23 L400.63,348.90 L401.11,355.15 L401.59,362.59 L402.07,370.50 L402.54,377.79 L403.02,383.06 L403.50,385.00 L403.98,381.95 L404.46,373.84 L404.95,362.88 L405.43,351.16 L405.91,340.05 L406.39,330.28 L406.87,322.16 L407.35,315.82 L407.84,311.30 L408.32,308.60 L408.80,307.70 L409.29,309.11 L409.78,313.39 L410.27,320.72 L410.76,331.40 L411.25,345.89 L411.74,364.87 L412.23,389.09 L412.72,418.74 L413.21,449.82 L413.70,465.60 L414.18,458.35 L414.66,440.76 L415.14,419.70 L415.62,399.17 L416.10,380.56 L416.58,364.14 L417.06,349.78 L417.54,337.26 L418.02,326.35 L418.50,316.86 L418.98,308.64 L419.46,301.56 L419.94,295.51 L420.42,290.40 L420.90,286.18 L421.38,282.79 L421.86,280.19 L422.34,278.36 L422.82,277.26 L423.30,276.90 L423.79,277.02 L424.29,277.37 L424.78,277.95 L425.28,278.77 L425.77,279.83 L426.27,281.14 L426.76,282.69 L427.26,284.50 L427.75,286.57 L428.24,288.92 L428.74,291.54 L429.23,294.46 L429.73,297.69 L430.22,301.24 L430.72,305.13 L431.21,309.38 L431.71,314.03 L432.20,319.09 L432.69,324.61 L433.19,330.61 L433.68,337.16 L434.18,344.31 L434.67,352.12 L435.17,360.68 L435.66,370.10 L436.16,380.50 L436.65,392.04 L437.14,404.91 L437.64,419.39 L438.13,435.78 L438.63,454.48 L439.12,475.89 L439.62,500.23 L440.11,526.61 L440.61,550.56 L441.10,561.20 L441.59,519.28 L442.09,463.70 L442.58,422.03 L443.08,390.71 L443.57,366.31 L444.06,346.76 L444.56,330.82 L445.05,317.70 L445.54,306.89 L446.04,298.03 L446.53,290.85 L447.02,285.18 L447.52,280.88 L448.01,277.87 L448.51,276.09 L449.00,275.50 L449.47,276.50 L449.93,279.52 L450.40,284.67 L450.87,292.08 L451.33,302.01 L451.80,314.82 L452.27,330.99 L452.73,351.19 L453.20,376.12 L453.67,405.81 L454.13,436.15 L454.60,451.20 L455.10,443.57 L455.59,425.20 L456.09,403.45 L456.58,382.39 L457.08,363.39 L457.57,346.64 L458.07,332.00 L458.56,319.20 L459.06,308.02 L459.55,298.25 L460.05,289.73 L460.54,282.32 L461.04,275.92 L461.53,270.43 L462.03,265.80 L462.52,261.96 L463.02,258.87 L463.51,256.51 L464.01,254.83 L464.50,253.83 L465.00,253.50 L465.50,254.46 L466.00,257.36 L466.50,262.21 L467.00,269.07 L467.50,277.96 L468.00,288.82 L468.50,301.41 L469.00,315.07 L469.50,328.28 L470.00,338.41 L470.50,342.30 L470.98,339.67 L471.47,332.55 L471.95,322.68 L472.43,311.81 L472.92,301.18 L473.40,291.49 L473.88,283.12 L474.37,276.23 L474.85,270.87 L475.33,267.05 L475.82,264.76 L476.30,264.00 L476.78,264.76 L477.27,266.78 L477.75,269.62 L478.23,272.89 L478.72,276.15 L479.20,279.00 L479.68,274.50 L480.16,270.40 L480.64,266.10 L481.12,261.00 L481.60,254.50 L482.08,246.24 L482.56,236.63 L483.04,226.20 L483.52,215.48 L484.00,205.00 L484.44,195.46 L484.88,185.66 L485.32,175.82 L485.76,166.19 L486.20,157.00 L486.63,148.43 L487.07,140.18 L487.50,132.11 L487.93,124.14 L488.37,116.14 L488.80,108.00 L489.30,98.17 L489.80,87.99 L490.30,77.93 L490.80,68.45 L491.30,60.00 L491.80,52.88 L492.30,46.95 L492.80,42.05 L493.30,38.00 L493.78,34.50 L494.27,31.21 L494.75,28.34 L495.23,26.05 L495.72,24.54 L496.20,24.00 L496.68,24.50 L497.17,25.91 L497.65,28.10 L498.13,30.93 L498.62,34.28 L499.10,38.00 L499.50,41.89 L499.90,47.01 L500.30,53.12 L500.70,60.00 L501.16,68.76 L501.62,78.28 L502.08,88.23 L502.54,98.25 L503.00,108.00 L503.48,117.88 L503.96,127.72 L504.44,137.52 L504.92,147.28 L505.40,157.00 L505.88,166.68 L506.36,176.33 L506.84,185.93 L507.32,195.49 L507.80,205.00 L508.25,213.98 L508.70,222.97 L509.15,231.73 L509.60,240.00 L510.08,248.37 L510.57,256.48 L511.05,264.40 L511.53,272.24 L512.02,280.07 L512.50,288.00 L512.98,284.28 L513.46,280.05 L513.93,275.57 L514.41,271.10 L514.89,266.87 L515.37,263.15 L515.84,260.18 L516.32,258.21 L516.80,257.50 L517.26,258.48 L517.73,261.43 L518.19,266.38 L518.65,273.40 L519.12,282.50 L519.58,293.69 L520.05,306.74 L520.51,321.01 L520.97,334.97 L521.44,345.80 L521.90,350.00 L522.37,346.03 L522.84,336.11 L523.31,324.11 L523.79,313.05 L524.26,304.54 L524.73,299.28 L525.20,297.50 L525.68,298.08 L526.16,299.82 L526.65,302.65 L527.13,306.50 L527.61,311.20 L528.09,316.51 L528.57,322.08 L529.05,327.41 L529.54,331.90 L530.02,334.93 L530.50,336.00 L531.00,335.08 L531.50,332.93 L532.00,330.84 L532.50,330.00 L532.98,332.62 L533.47,340.38 L533.95,352.87 L534.43,368.55 L534.92,383.22 L535.40,389.60 L535.87,385.39 L536.35,374.54 L536.82,360.56 L537.29,346.27 L537.76,333.21 L538.24,322.02 L538.71,312.90 L539.18,305.89 L539.65,300.93 L540.13,297.98 L540.60,297.00 L541.09,297.41 L541.59,298.65 L542.08,300.72 L542.58,303.65 L543.07,307.46 L543.57,312.19 L544.06,317.88 L544.56,324.59 L545.05,332.37 L545.54,341.28 L546.04,351.34 L546.53,362.56 L547.03,374.81 L547.52,387.78 L548.02,400.77 L548.51,412.45 L549.01,420.88 L549.50,424.00 L550.00,423.08 L550.50,420.93 L551.00,418.84 L551.50,418.00 L552.00,418.91 L552.50,421.63 L553.00,426.12 L553.50,432.28 L554.00,439.92 L554.50,448.63 L555.00,457.72 L555.50,466.01 L556.00,472.00 L556.50,474.20 L556.98,463.45 L557.45,439.51 L557.93,413.51 L558.41,389.94 L558.88,369.65 L559.36,352.40 L559.84,337.78 L560.31,325.38 L560.79,314.89 L561.26,306.08 L561.74,298.73 L562.22,292.73 L562.69,287.94 L563.17,284.29 L563.65,281.73 L564.12,280.21 L564.60,279.70 L565.09,280.45 L565.58,282.69 L566.08,286.47 L566.57,291.83 L567.06,298.84 L567.55,307.57 L568.05,318.07 L568.54,330.33 L569.03,344.12 L569.52,358.79 L570.02,372.85 L570.51,383.58 L571.00,387.70 L571.47,383.82 L571.95,373.70 L572.42,360.51 L572.89,346.88 L573.36,334.29 L573.84,323.44 L574.31,314.56 L574.78,307.71 L575.25,302.85 L575.73,299.96 L576.20,299.00 L576.68,299.93 L577.16,302.73 L577.65,307.43 L578.13,314.03 L578.61,322.55 L579.09,332.87 L579.57,344.73 L580.05,357.41 L580.54,369.47 L581.02,378.55 L581.50,382.00 L581.98,377.78 L582.47,367.54 L582.95,355.83 L583.43,345.99 L583.92,339.66 L584.40,337.50 L584.88,338.37 L585.35,341.01 L585.83,345.48 L586.31,351.92 L586.78,360.52 L587.26,371.57 L587.74,385.49 L588.22,402.88 L588.69,424.61 L589.17,451.84 L589.65,485.53 L590.12,522.79 L590.60,543.20 L591.09,534.49 L591.59,514.24 L592.08,491.28 L592.57,469.94 L593.06,451.41 L593.56,435.74 L594.05,422.66 L594.54,411.87 L595.04,403.11 L595.53,396.20 L596.02,390.96 L596.51,387.29 L597.01,385.12 L597.50,384.40 L597.97,387.16 L598.44,395.64 L598.91,410.41 L599.39,432.41 L599.86,462.51 L600.33,497.71 L600.80,517.50 L601.27,498.34 L601.75,462.79 L602.22,430.38 L602.69,404.34 L603.16,383.89 L603.64,367.99 L604.11,355.82 L604.58,346.82 L605.05,340.63 L605.53,337.00 L606.00,335.80 L606.50,338.17 L607.00,345.45 L607.50,358.27 L608.00,377.88 L608.50,406.79 L609.00,450.35 L609.50,521.59 L610.00,610.20 L610.50,536.12 L611.00,468.49 L611.50,425.80 L612.00,397.22 L612.50,377.75 L613.00,365.01 L613.50,357.76 L614.00,355.40 L614.48,356.28 L614.97,358.94 L615.45,363.46 L615.94,369.97 L616.42,378.68 L616.91,389.90 L617.39,404.08 L617.88,421.89 L618.36,444.35 L618.85,472.96 L619.33,509.57 L619.82,553.00 L620.30,579.30 L620.79,525.64 L621.29,463.92 L621.78,420.43 L622.27,388.52 L622.77,363.98 L623.26,344.52 L623.75,328.83 L624.25,316.08 L624.74,305.72 L625.23,297.41 L625.73,290.87 L626.22,285.95 L626.71,282.51 L627.21,280.47 L627.70,279.80 L628.17,280.61 L628.64,283.07 L629.11,287.23 L629.58,293.17 L630.05,301.03 L630.52,310.98 L630.98,323.24 L631.45,338.06 L631.92,355.59 L632.39,375.66 L632.86,396.95 L633.33,415.28 L633.80,423.00 L634.22,422.24 L634.65,420.45 L635.08,418.71 L635.50,418.00 L635.97,422.10 L636.43,434.91 L636.90,458.27 L637.37,496.31 L637.83,556.58 L638.30,614.00 L638.79,591.80 L639.27,552.16 L639.76,516.55 L640.25,487.46 L640.73,463.62 L641.22,443.78 L641.71,426.99 L642.20,412.61 L642.68,400.18 L643.17,389.37 L643.66,379.92 L644.14,371.66 L644.63,364.44 L645.12,358.14 L645.60,352.69 L646.09,348.01 L646.58,344.05 L647.07,340.76 L647.55,338.12 L648.04,336.08 L648.53,334.64 L649.01,333.79 L649.50,333.50 L649.97,335.01 L650.44,339.62 L650.91,347.57 L651.38,359.31 L651.85,375.61 L652.32,397.82 L652.79,428.40 L653.26,472.25 L653.73,539.62 L654.20,610.20 L654.69,540.42 L655.18,473.06 L655.67,428.83 L656.16,397.65 L656.65,374.60 L657.15,357.25 L657.64,344.21 L658.13,334.68 L658.62,328.16 L659.11,324.35 L659.60,323.10 L660.08,323.58 L660.55,325.03 L661.03,327.47 L661.51,330.92 L661.98,335.44 L662.46,341.08 L662.94,347.92 L663.41,356.07 L663.89,365.63 L664.36,376.74 L664.84,389.51 L665.32,404.04 L665.79,420.22 L666.27,437.51 L666.75,454.38 L667.22,467.61 L667.70,472.80 L668.18,462.52 L668.67,439.60 L669.15,414.84 L669.63,392.74 L670.12,374.18 L670.60,359.01 L671.08,346.84 L671.57,337.32 L672.05,330.17 L672.53,325.20 L673.02,322.27 L673.50,321.30 L673.98,321.97 L674.45,323.97 L674.92,327.30 L675.40,331.92 L675.88,337.77 L676.35,344.75 L676.83,352.61 L677.30,360.96 L677.78,369.16 L678.25,376.28 L678.73,381.22 L679.20,383.00 L679.69,381.05 L680.18,375.60 L680.66,367.67 L681.15,358.39 L681.64,348.69 L682.12,339.21 L682.61,330.35 L683.10,322.31 L683.59,315.20 L684.08,309.05 L684.56,303.89 L685.05,299.69 L685.54,296.44 L686.02,294.14 L686.51,292.76 L687.00,292.30 L687.49,293.18 L687.98,295.85 L688.48,300.39 L688.97,306.92 L689.46,315.67 L689.95,326.94 L690.45,341.20 L690.94,359.15 L691.43,381.84 L691.92,410.92 L692.42,448.55 L692.91,494.37 L693.40,523.30 L693.88,511.15 L694.36,487.46 L694.84,466.95 L695.32,454.24 L695.80,450.00 L696.24,455.99 L696.68,475.13 L697.12,511.95 L697.56,578.50 L698.00,661.70 L698.48,551.22 L698.95,474.73 L699.43,427.82 L699.91,395.00 L700.38,370.47 L700.86,351.51 L701.34,336.64 L701.82,324.98 L702.29,315.98 L702.77,309.27 L703.25,304.63 L703.72,301.90 L704.20,301.00 L704.69,301.97 L705.18,304.92 L705.68,309.93 L706.17,317.12 L706.66,326.72 L707.15,339.00 L707.64,354.35 L708.13,373.20 L708.62,395.79 L709.12,421.35 L709.61,445.37 L710.10,456.30 L710.58,447.79 L711.07,427.97 L711.55,405.45 L712.04,384.56 L712.52,366.51 L713.01,351.36 L713.49,338.88 L713.98,328.78 L714.46,320.82 L714.95,314.81 L715.43,310.61 L715.92,308.12 L716.40,307.30 L716.88,307.83 L717.36,309.40 L717.85,311.95 L718.33,315.40 L718.81,319.58 L719.29,324.26 L719.77,329.12 L720.25,333.71 L720.74,337.54 L721.22,340.10 L721.70,341.00 L722.20,339.33 L722.70,334.64 L723.20,327.74 L723.70,319.57 L724.20,310.94 L724.70,302.46 L725.20,294.52 L725.70,287.33 L726.20,281.02 L726.70,275.66 L727.20,271.27 L727.70,267.87 L728.20,265.44 L728.70,263.98 L729.20,263.50 L729.68,264.05 L730.17,265.58 L730.65,267.93 L731.13,270.93 L731.62,274.41 L732.10,278.20 L732.58,282.13 L733.07,286.03 L733.55,289.74 L734.03,293.08 L734.52,295.89 L735.00,298.00 L735.50,299.43 L736.00,300.30 L736.50,300.72 L737.00,300.83 L737.50,300.73 L738.00,300.57 L738.50,300.46 L739.00,300.52 L739.50,300.88 L740.00,301.67 L740.50,303.00 L741.00,305.00 L741.50,307.52 L742.00,310.32 L742.50,313.36 L743.00,316.62 L743.50,320.08 L744.00,323.70 L744.50,327.46 L745.00,331.33 L745.50,335.30 L746.00,339.32 L746.50,343.38 L747.00,347.45 L747.50,351.50 L748.00,355.51 L748.50,359.44 L749.00,363.28 L749.50,367.00 L749.97,363.84 L750.44,355.48 L750.91,344.37 L751.38,332.73 L751.85,321.97 L752.32,312.80 L752.79,305.56 L753.26,300.36 L753.73,297.24 L754.20,296.20 L754.68,297.16 L755.17,300.08 L755.65,305.01 L756.13,312.10 L756.62,321.53 L757.10,333.57 L757.58,348.53 L758.07,366.75 L758.55,388.31 L759.03,412.18 L759.52,433.91 L760.00,443.50 L760.48,433.11 L760.97,409.99 L761.45,385.08 L761.93,362.88 L762.42,344.27 L762.90,329.07 L763.38,316.87 L763.87,307.34 L764.35,300.18 L764.83,295.21 L765.32,292.27 L765.80,291.30 L766.28,291.96 L766.76,293.96 L767.24,297.32 L767.71,302.08 L768.19,308.32 L768.67,316.10 L769.15,325.52 L769.63,336.64 L770.11,349.45 L770.59,363.76 L771.06,378.92 L771.54,393.44 L772.02,404.54 L772.50,408.80 L772.98,406.89 L773.46,401.53 L773.94,393.65 L774.42,384.29 L774.90,374.34 L775.38,364.42 L775.86,354.91 L776.34,346.04 L776.82,337.90 L777.30,330.54 L777.78,323.96 L778.26,318.15 L778.74,313.10 L779.22,308.78 L779.70,305.17 L780.18,302.24 L780.66,299.98 L781.14,298.38 L781.62,297.42 L782.10,297.10 L782.59,297.43 L783.09,298.36 L783.58,299.81 L784.07,301.71 L784.56,303.98 L785.06,306.54 L785.55,309.30 L786.04,312.20 L786.54,315.16 L787.03,318.09 L787.52,320.92 L788.01,323.56 L788.51,325.95 L789.00,328.00 L789.46,328.34 L789.92,326.62 L790.39,323.99 L790.85,321.59 L791.31,320.55 L791.78,322.01 L792.24,327.12 L792.70,337.00 L793.17,351.39 L793.65,368.41 L794.12,387.65 L794.59,408.69 L795.06,431.12 L795.54,454.51 L796.01,478.47 L796.48,502.56 L796.95,526.37 L797.43,549.49 L797.90,571.50 L798.39,561.53 L798.88,539.46 L799.37,516.08 L799.86,495.89 L800.34,479.84 L800.83,467.82 L801.32,459.49 L801.81,454.61 L802.30,453.00 L802.77,456.11 L803.24,465.78 L803.71,483.13 L804.19,510.68 L804.66,554.31 L805.13,630.89 L805.60,760.00 L806.08,596.54 L806.56,514.82 L807.05,466.26 L807.53,432.20 L808.01,406.34 L808.49,385.85 L808.98,369.18 L809.46,355.44 L809.94,344.02 L810.42,334.54 L810.91,326.73 L811.39,320.37 L811.87,315.33 L812.35,311.50 L812.84,308.82 L813.32,307.23 L813.80,306.70 L814.29,307.47 L814.77,309.81 L815.26,313.77 L815.74,319.45 L816.23,327.03 L816.71,336.75 L817.20,348.96 L817.69,364.20 L818.17,383.27 L818.66,407.52 L819.14,439.22 L819.63,482.61 L820.11,544.46 L820.60,598.60 L821.08,566.48 L821.55,518.10 L822.02,479.64 L822.50,450.46 L822.98,428.00 L823.45,410.52 L823.92,396.91 L824.40,386.47 L824.88,378.72 L825.35,373.37 L825.82,370.24 L826.30,369.20 L826.79,369.95 L827.28,372.16 L827.77,375.78 L828.26,380.66 L828.75,386.56 L829.24,393.09 L829.73,399.64 L830.22,405.38 L830.71,409.36 L831.20,410.80 L831.70,403.87 L832.20,396.65 L832.70,389.23 L833.20,381.69 L833.70,374.12 L834.20,366.61 L834.70,359.25 L835.20,352.12 L835.70,345.30 L836.20,338.90 L836.70,332.99 L837.20,327.66 L837.70,323.00 L838.18,319.72 L838.66,317.86 L839.13,317.11 L839.61,317.15 L840.09,317.66 L840.57,318.32 L841.04,318.81 L841.52,318.81 L842.00,318.00 L842.48,316.53 L842.96,314.80 L843.45,312.86 L843.93,310.75 L844.41,308.53 L844.89,306.23 L845.38,303.89 L845.86,301.56 L846.34,299.30 L846.82,297.13 L847.31,295.11 L847.79,293.27 L848.27,291.67 L848.75,290.35 L849.24,289.35 L849.72,288.72 L850.20,288.50 L850.68,288.68 L851.16,289.22 L851.64,290.11 L852.12,291.35 L852.60,292.92 L853.08,294.82 L853.56,297.01 L854.04,299.48 L854.52,302.20 L855.00,305.11 L855.48,308.17 L855.96,311.30 L856.44,314.43 L856.92,317.47 L857.40,320.31 L857.88,322.85 L858.36,324.97 L858.84,326.57 L859.32,327.56 L859.80,327.90 L860.30,327.45 L860.80,326.11 L861.30,323.97 L861.80,321.15 L862.30,317.78 L862.80,314.03 L863.30,310.01 L863.80,305.88 L864.30,301.73 L864.80,297.65 L865.30,293.72 L865.80,289.99 L866.30,286.50 L866.80,283.29 L867.30,280.38 L867.80,277.79 L868.30,275.53 L868.80,273.60 L869.30,272.02 L869.80,270.79 L870.30,269.91 L870.80,269.38 L871.30,269.20 L871.79,269.55 L872.27,270.59 L872.76,272.33 L873.24,274.81 L873.73,278.04 L874.21,282.07 L874.70,286.95 L875.19,292.75 L875.67,299.57 L876.16,307.51 L876.64,316.74 L877.13,327.47 L877.61,339.98 L878.10,354.66 L878.59,372.11 L879.07,393.24 L879.56,419.56 L880.04,453.84 L880.53,502.12 L881.01,581.17 L881.50,708.10 L882.00,589.28 L882.50,511.20 L883.00,463.17 L883.50,429.04 L884.00,402.86 L884.50,381.89 L885.00,364.60 L885.50,350.11 L886.00,337.82 L886.50,327.34 L887.00,318.38 L887.50,310.74 L888.00,304.27 L888.50,298.84 L889.00,294.37 L889.50,290.79 L890.00,288.06 L890.50,286.13 L891.00,284.98 L891.50,284.60 L891.99,284.85 L892.47,285.59 L892.96,286.82 L893.44,288.54 L893.92,290.75 L894.41,293.45 L894.89,296.61 L895.38,300.24 L895.87,304.30 L896.35,308.76 L896.84,313.57 L897.32,318.65 L897.81,323.90 L898.29,329.17 L898.78,334.29 L899.26,339.02 L899.75,343.11 L900.23,346.28 L900.72,348.31 L901.20,349.00 L901.70,348.56 L902.20,347.26 L902.70,345.17 L903.20,342.42 L903.70,339.13 L904.20,335.45 L904.70,331.52 L905.20,327.47 L905.70,323.39 L906.20,319.38 L906.70,315.51 L907.20,311.83 L907.70,308.40 L908.20,305.23 L908.70,302.36 L909.20,299.79 L909.70,297.56 L910.20,295.65 L910.70,294.09 L911.20,292.87 L911.70,292.00 L912.20,291.47 L912.70,291.30 L913.20,291.32 L913.70,291.37 L914.20,291.45 L914.70,291.56 L915.20,291.70 L915.70,291.86 L916.20,292.05 L916.70,292.27 L917.20,292.51 L917.70,292.77 L918.20,293.05 L918.70,293.35 L919.20,293.67 L919.70,294.00 L920.20,294.35 L920.70,294.71 L921.20,295.09 L921.70,295.47 L922.20,295.86 L922.70,296.26 L923.20,296.67 L923.70,297.08 L924.20,297.50 L924.68,297.92 L925.17,298.35 L925.65,298.81 L926.13,299.29 L926.62,299.78 L927.10,300.30 L927.58,300.82 L928.07,301.36 L928.55,301.91 L929.03,302.48 L929.52,303.05 L930.00,303.62 L930.48,304.21 L930.97,304.80 L931.45,305.39 L931.93,305.98 L932.42,306.57 L932.90,307.17 L933.38,307.75 L933.87,308.34 L934.35,308.92 L934.83,309.49 L935.32,310.05 L935.80,310.60 L936.30,310.55 L936.80,310.41 L937.30,310.17 L937.80,309.85 L938.30,309.45 L938.80,308.97 L939.30,308.44 L939.80,307.86 L940.30,307.24 L940.80,306.60 L941.30,305.94 L941.80,305.29 L942.30,304.65 L942.80,304.03 L943.30,303.45 L943.80,302.91 L944.30,302.43 L944.80,302.01 L945.30,301.65 L945.80,301.37 L946.30,301.17 L946.80,301.04 L947.30,301.00 L947.79,301.05 L948.28,301.20 L948.77,301.44 L949.27,301.79 L949.76,302.24 L950.25,302.78 L950.74,303.42 L951.23,304.17 L951.72,305.01 L952.21,305.95 L952.71,307.00 L953.20,308.14 L953.69,309.38 L954.18,310.72 L954.67,312.17 L955.16,313.71 L955.66,315.35 L956.15,317.09 L956.64,318.93 L957.13,320.87 L957.62,322.90 L958.11,325.03 L958.60,327.24 L959.10,329.54 L959.59,331.93 L960.08,334.40 L960.57,336.94 L961.06,339.54 L961.55,342.20 L962.04,344.92 L962.54,347.66 L963.03,350.43 L963.52,353.20 L964.01,355.97 L964.50,358.70 L964.99,361.37 L965.49,363.96 L965.98,366.44 L966.47,368.78 L966.96,370.94 L967.45,372.90 L967.94,374.63 L968.43,376.09 L968.93,377.26 L969.42,378.11 L969.91,378.63 L970.40,378.80 L970.89,377.73 L971.38,376.66 L971.87,375.58 L972.37,374.50 L972.86,373.41 L973.35,372.32 L973.84,371.23 L974.33,370.13 L974.82,369.03 L975.31,367.93 L975.81,366.82 L976.30,365.72 L976.79,364.61 L977.28,363.50 L977.77,362.39 L978.26,361.28 L978.76,360.17 L979.25,359.06 L979.74,357.95 L980.23,356.84 L980.72,355.74 L981.21,354.63 L981.70,353.53 L982.20,352.43 L982.69,351.34 L983.18,350.24 L983.67,349.16 L984.16,348.07 L984.65,346.99 L985.14,345.92 L985.64,344.85 L986.13,343.79 L986.62,342.73 L987.11,341.68 L987.60,340.64 L988.09,339.60 L988.59,338.57 L989.08,337.55 L989.57,336.54 L990.06,335.54 L990.55,334.55 L991.04,333.56 L991.53,332.59 L992.03,331.62 L992.52,330.67 L993.01,329.73 L993.50,328.80 L993.98,327.92 L994.46,327.08 L994.94,326.27 L995.42,325.51 L995.90,324.78 L996.38,324.08 L996.86,323.42 L997.34,322.80 L997.82,322.20 L998.30,321.63 L998.78,321.09 L999.26,320.58 L999.74,320.09 L1000.22,319.63 L1000.70,319.19 L1001.18,318.78 L1001.66,318.38 L1002.14,318.00 L1002.62,317.64 L1003.10,317.30 L1003.58,316.99 L1004.06,316.71 L1004.54,316.47 L1005.02,316.27 L1005.50,316.10 L1005.98,315.95 L1006.46,315.83 L1006.94,315.74 L1007.42,315.66 L1007.90,315.60 L1008.38,315.56 L1008.86,315.53 L1009.34,315.51 L1009.82,315.50 L1010.30,315.49 L1010.78,315.48 L1011.26,315.47 L1011.74,315.45 L1012.22,315.43 L1012.70,315.40 L1013.19,315.36 L1013.69,315.33 L1014.18,315.31 L1014.67,315.29 L1015.17,315.27 L1015.66,315.25 L1016.15,315.24 L1016.65,315.23 L1017.14,315.23 L1017.64,315.23 L1018.13,315.23 L1018.62,315.23 L1019.12,315.23 L1019.61,315.24 L1020.10,315.25 L1020.60,315.26 L1021.09,315.27 L1021.58,315.28 L1022.08,315.29 L1022.57,315.31 L1023.06,315.32 L1023.56,315.33 L1024.05,315.34 L1024.55,315.35 L1025.04,315.36 L1025.53,315.37 L1026.03,315.38 L1026.52,315.39 L1027.01,315.40 L1027.51,315.40 L1028.00,315.40" fill="none" stroke="#f00" stroke-width="5.4" stroke-linejoin="round" stroke-linecap="round"/>
</g>
<text x="167.58" y="782" font-size="35.5" text-anchor="middle">-80</text>
<text x="268.75" y="782" font-size="35.5" text-anchor="middle">-60</text>
<text x="369.92" y="782" font-size="35.5" text-anchor="middle">-40</text>
<text x="471.08" y="782" font-size="35.5" text-anchor="middle">-20</text>
<text x="572.25" y="782" font-size="35.5" text-anchor="middle">0</text>
<text x="673.42" y="782" font-size="35.5" text-anchor="middle">20</text>
<text x="774.58" y="782" font-size="35.5" text-anchor="middle">40</text>
<text x="875.75" y="782" font-size="35.5" text-anchor="middle">60</text>
<text x="976.92" y="782" font-size="35.5" text-anchor="middle">80</text>
<text x="103" y="36.80" font-size="35.5" text-anchor="end">0</text>
<text x="103" y="179.00" font-size="35.5" text-anchor="end">-10</text>
<text x="103" y="321.20" font-size="35.5" text-anchor="end">-20</text>
<text x="103" y="463.40" font-size="35.5" text-anchor="end">-30</text>
<text x="103" y="605.60" font-size="35.5" text-anchor="end">-40</text>
<text x="103" y="747.80" font-size="35.5" text-anchor="end">-50</text>
<text x="572" y="833" font-size="39" text-anchor="middle">Angle(°)</text>
<text transform="translate(36.8 382) rotate(-90)" font-size="39" text-anchor="middle">Pattern(dB)</text>
<rect x="797" y="24.0" width="230.5" height="170.0" fill="#fff" stroke="#262626" stroke-width="1.3"/>
<line x1="805.1" y1="48.1" x2="889.1" y2="48.1" stroke="#000" stroke-width="4" stroke-dasharray="4 4.4"/>
<text x="895.6" y="59.6" font-size="32.3" fill="#000" style="fill:#000">GA</text>
<line x1="805.1" y1="88.9" x2="889.1" y2="88.9" stroke="#0f0" stroke-width="3.7" stroke-dasharray="16.5 4.3 8.2 4.3"/>
<text x="895.6" y="100.2" font-size="32.3" fill="#000" style="fill:#000">PSO</text>
<line x1="805.1" y1="129.4" x2="889.1" y2="129.4" stroke="#00f" stroke-width="4" stroke-dasharray="16.5 16.8"/>
<text x="895.6" y="140.5" font-size="32.3" fill="#000" style="fill:#000">WOA</text>
<line x1="805.1" y1="169.9" x2="889.1" y2="169.9" stroke="#f00" stroke-width="5.4"/>
<text x="895.6" y="180.7" font-size="32.3" fill="#000" style="fill:#000">GEWOA</text>
</svg></body></html>
